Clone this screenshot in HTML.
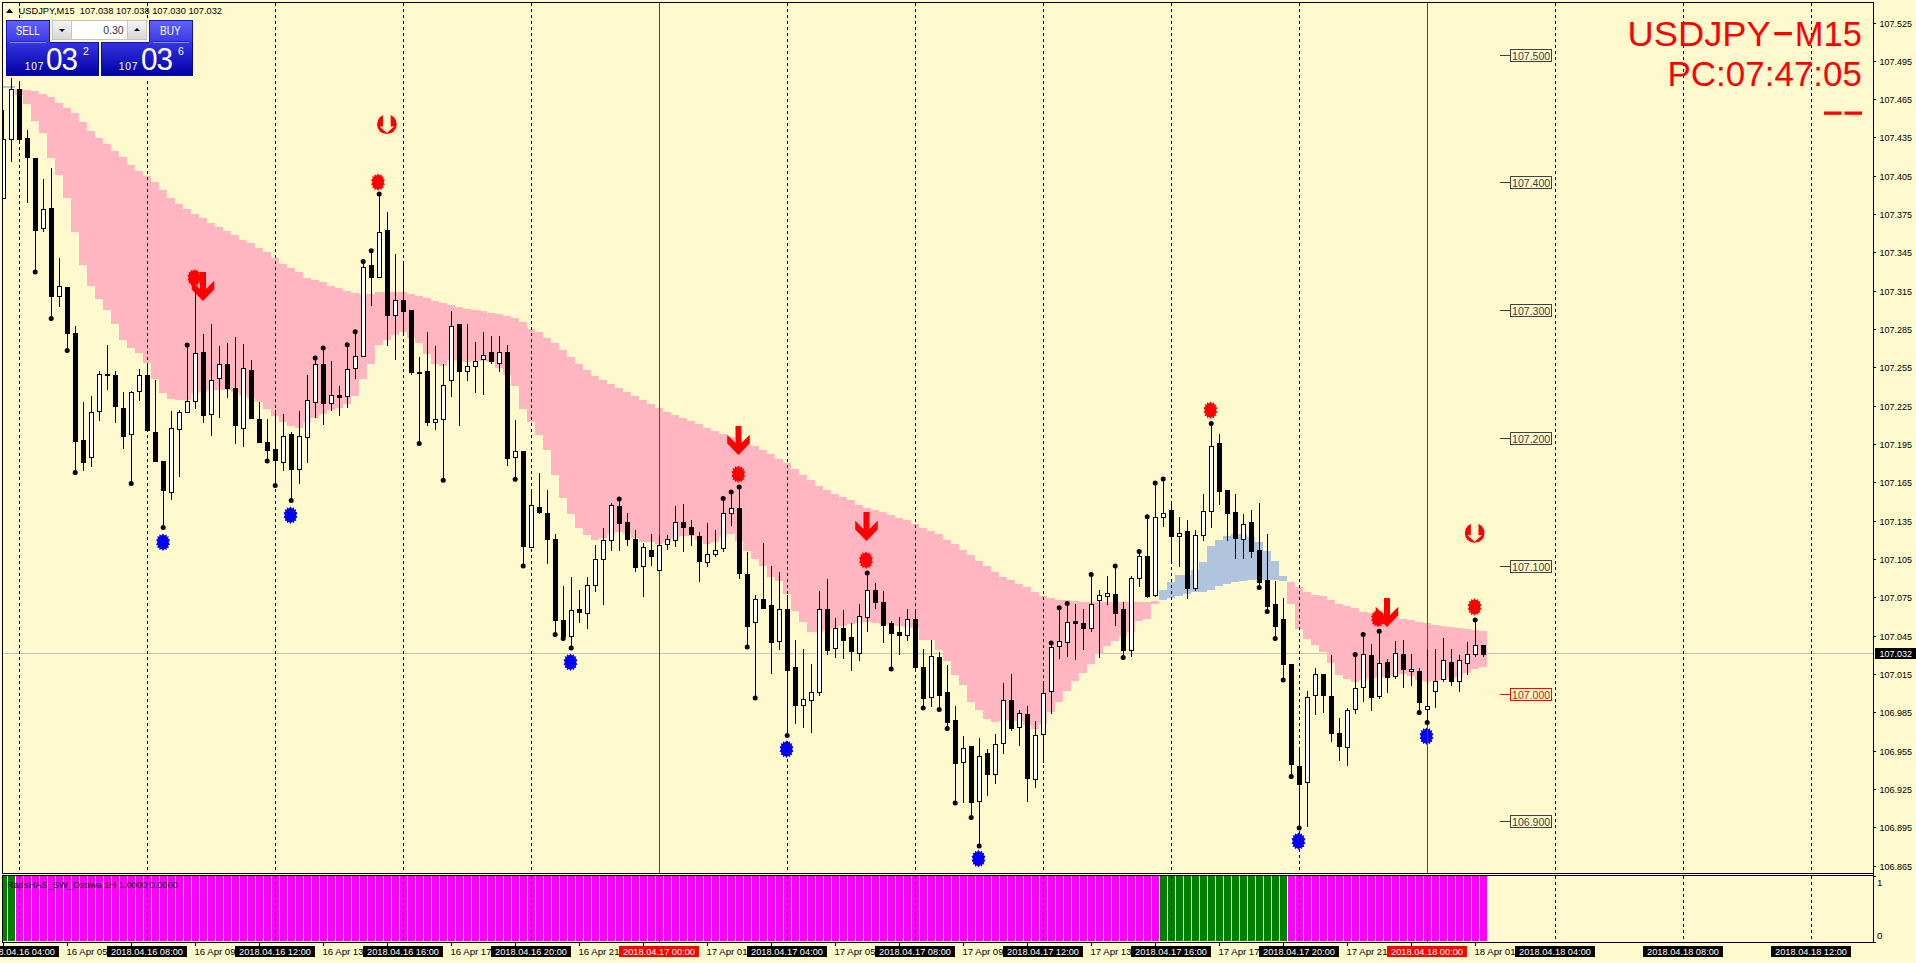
<!DOCTYPE html>
<html lang="en"><head><meta charset="utf-8"><title>USDJPY,M15</title><style>
html,body{margin:0;padding:0;background:#FFFACD}
body{width:1916px;height:963px;overflow:hidden;position:relative;font-family:"Liberation Sans",sans-serif}
.panel{position:absolute;left:6px;top:20px;width:187px;height:56px}
.blk{position:absolute;box-sizing:border-box}
.mid{left:44px;top:0;width:99px;height:23px;background:#FFFACD}
.under{left:0;top:56px;width:187px;height:2px;background:#FFFACD}
.sellb{left:0;top:0;width:44px;height:23px;background:linear-gradient(#6060fa,#3838e6);border:1px solid #1414b8;border-bottom:none}
.buyb{left:143.3px;top:0;width:43.7px;height:23px;background:linear-gradient(#6060fa,#3838e6);border:1px solid #1414b8;border-bottom:none}
.sellp{left:0;top:22.2px;width:93px;height:33.8px;background:linear-gradient(#3636e4,#0000a4);border:1px solid #0808a8;border-top:none}
.buyp{left:95.2px;top:22.2px;width:91.8px;height:33.8px;background:linear-gradient(#3636e4,#0000a4);border:1px solid #0808a8;border-top:none}
.edge{position:absolute;top:22.2px;height:1px;background:#1010b4}
.ul{position:absolute;top:22px;width:36px;height:1px;background:#8c8cff}
.uld{position:absolute;top:21px;width:36px;height:1px;background:#2424c8}
.lbl{position:absolute;top:4.5px;height:13px;line-height:13px;font-size:12px;color:#fff;text-align:center;white-space:nowrap}
.spin{position:absolute;left:46.4px;top:0px;width:94.4px;height:19.8px;background:#c4c4c4}
.sb{position:absolute;top:1px;height:18px;background:linear-gradient(#f4f4f4,#d8d8d8)}
.inp{position:absolute;left:19.4px;top:1px;width:55.4px;height:18px;background:#fff;font-size:10.5px;line-height:18px;text-align:right;padding-right:3.5px;box-sizing:border-box;color:#303040}
.dn{position:absolute;left:6px;top:7.5px;border-left:3px solid transparent;border-right:3px solid transparent;border-top:3px solid #000;width:0;height:0}
.upa{position:absolute;left:6px;top:7px;border-left:3px solid transparent;border-right:3px solid transparent;border-bottom:3px solid #000;width:0;height:0}
.sm{position:absolute;top:42px;font-size:10.3px;line-height:10px;color:#fff;letter-spacing:0.7px}
.big{position:absolute;top:22.5px;font-size:32px;line-height:32px;color:#fff;letter-spacing:-1px;transform-origin:0 50%;transform:scaleX(0.93)}
.sup{position:absolute;top:26px;font-size:10.5px;line-height:11px;color:#fff}
</style></head><body>
<svg width="1916" height="963" viewBox="0 0 1916 963" style="position:absolute;left:0;top:0">
<rect x="0" y="0" width="1916" height="963" fill="#FFFACD"/>
<g shape-rendering="crispEdges">
<rect x="3" y="653" width="1870" height="1" fill="#C0C0C0"/>
<rect x="15" y="89" width="8" height="6" fill="#FFB6C1"/>
<rect x="23" y="90" width="8" height="14" fill="#FFB6C1"/>
<rect x="31" y="91" width="8" height="30" fill="#FFB6C1"/>
<rect x="39" y="94" width="8" height="39" fill="#FFB6C1"/>
<rect x="47" y="97" width="8" height="61" fill="#FFB6C1"/>
<rect x="55" y="103" width="8" height="72" fill="#FFB6C1"/>
<rect x="63" y="108" width="8" height="90" fill="#FFB6C1"/>
<rect x="71" y="113" width="8" height="119" fill="#FFB6C1"/>
<rect x="79" y="122" width="8" height="143" fill="#FFB6C1"/>
<rect x="87" y="131" width="8" height="155" fill="#FFB6C1"/>
<rect x="95" y="138" width="8" height="161" fill="#FFB6C1"/>
<rect x="103" y="144" width="8" height="166" fill="#FFB6C1"/>
<rect x="111" y="151" width="8" height="173" fill="#FFB6C1"/>
<rect x="119" y="157" width="8" height="183" fill="#FFB6C1"/>
<rect x="127" y="165" width="8" height="183" fill="#FFB6C1"/>
<rect x="135" y="171" width="8" height="182" fill="#FFB6C1"/>
<rect x="143" y="176" width="8" height="187" fill="#FFB6C1"/>
<rect x="151" y="182" width="8" height="197" fill="#FFB6C1"/>
<rect x="159" y="190" width="8" height="203" fill="#FFB6C1"/>
<rect x="167" y="198" width="8" height="201" fill="#FFB6C1"/>
<rect x="175" y="204" width="8" height="196" fill="#FFB6C1"/>
<rect x="183" y="209" width="8" height="191" fill="#FFB6C1"/>
<rect x="191" y="214" width="8" height="180" fill="#FFB6C1"/>
<rect x="199" y="218" width="8" height="174" fill="#FFB6C1"/>
<rect x="207" y="223" width="8" height="167" fill="#FFB6C1"/>
<rect x="215" y="227" width="8" height="163" fill="#FFB6C1"/>
<rect x="223" y="231" width="8" height="159" fill="#FFB6C1"/>
<rect x="231" y="235" width="8" height="157" fill="#FFB6C1"/>
<rect x="239" y="240" width="8" height="155" fill="#FFB6C1"/>
<rect x="247" y="243" width="8" height="155" fill="#FFB6C1"/>
<rect x="255" y="248" width="8" height="154" fill="#FFB6C1"/>
<rect x="263" y="252" width="8" height="157" fill="#FFB6C1"/>
<rect x="271" y="258" width="8" height="158" fill="#FFB6C1"/>
<rect x="279" y="264" width="8" height="158" fill="#FFB6C1"/>
<rect x="287" y="268" width="8" height="158" fill="#FFB6C1"/>
<rect x="295" y="272" width="8" height="156" fill="#FFB6C1"/>
<rect x="303" y="278" width="8" height="144" fill="#FFB6C1"/>
<rect x="311" y="280" width="8" height="138" fill="#FFB6C1"/>
<rect x="319" y="282" width="8" height="132" fill="#FFB6C1"/>
<rect x="327" y="286" width="8" height="124" fill="#FFB6C1"/>
<rect x="335" y="288" width="8" height="120" fill="#FFB6C1"/>
<rect x="343" y="291" width="8" height="113" fill="#FFB6C1"/>
<rect x="351" y="293" width="8" height="103" fill="#FFB6C1"/>
<rect x="359" y="294" width="8" height="85" fill="#FFB6C1"/>
<rect x="367" y="294" width="8" height="70" fill="#FFB6C1"/>
<rect x="375" y="292" width="8" height="53" fill="#FFB6C1"/>
<rect x="383" y="292" width="8" height="48" fill="#FFB6C1"/>
<rect x="391" y="292" width="8" height="43" fill="#FFB6C1"/>
<rect x="399" y="292" width="8" height="40" fill="#FFB6C1"/>
<rect x="407" y="294" width="8" height="44" fill="#FFB6C1"/>
<rect x="415" y="296" width="8" height="47" fill="#FFB6C1"/>
<rect x="423" y="298" width="8" height="56" fill="#FFB6C1"/>
<rect x="431" y="301" width="8" height="63" fill="#FFB6C1"/>
<rect x="439" y="303" width="8" height="63" fill="#FFB6C1"/>
<rect x="447" y="305" width="8" height="55" fill="#FFB6C1"/>
<rect x="455" y="307" width="8" height="54" fill="#FFB6C1"/>
<rect x="463" y="309" width="8" height="53" fill="#FFB6C1"/>
<rect x="471" y="310" width="8" height="51" fill="#FFB6C1"/>
<rect x="479" y="311" width="8" height="50" fill="#FFB6C1"/>
<rect x="487" y="313" width="8" height="49" fill="#FFB6C1"/>
<rect x="495" y="314" width="8" height="54" fill="#FFB6C1"/>
<rect x="503" y="316" width="8" height="59" fill="#FFB6C1"/>
<rect x="511" y="318" width="8" height="68" fill="#FFB6C1"/>
<rect x="519" y="322" width="8" height="87" fill="#FFB6C1"/>
<rect x="527" y="329" width="8" height="93" fill="#FFB6C1"/>
<rect x="535" y="332" width="8" height="103" fill="#FFB6C1"/>
<rect x="543" y="338" width="8" height="112" fill="#FFB6C1"/>
<rect x="551" y="343" width="8" height="132" fill="#FFB6C1"/>
<rect x="559" y="350" width="8" height="148" fill="#FFB6C1"/>
<rect x="567" y="357" width="8" height="157" fill="#FFB6C1"/>
<rect x="575" y="364" width="8" height="164" fill="#FFB6C1"/>
<rect x="583" y="370" width="8" height="165" fill="#FFB6C1"/>
<rect x="591" y="376" width="8" height="164" fill="#FFB6C1"/>
<rect x="599" y="380" width="8" height="158" fill="#FFB6C1"/>
<rect x="607" y="384" width="8" height="150" fill="#FFB6C1"/>
<rect x="615" y="388" width="8" height="144" fill="#FFB6C1"/>
<rect x="623" y="392" width="8" height="142" fill="#FFB6C1"/>
<rect x="631" y="396" width="8" height="142" fill="#FFB6C1"/>
<rect x="639" y="400" width="8" height="142" fill="#FFB6C1"/>
<rect x="647" y="404" width="8" height="138" fill="#FFB6C1"/>
<rect x="655" y="408" width="8" height="136" fill="#FFB6C1"/>
<rect x="663" y="412" width="8" height="130" fill="#FFB6C1"/>
<rect x="671" y="415" width="8" height="124" fill="#FFB6C1"/>
<rect x="679" y="418" width="8" height="118" fill="#FFB6C1"/>
<rect x="687" y="421" width="8" height="115" fill="#FFB6C1"/>
<rect x="695" y="424" width="8" height="116" fill="#FFB6C1"/>
<rect x="703" y="428" width="8" height="116" fill="#FFB6C1"/>
<rect x="711" y="431" width="8" height="111" fill="#FFB6C1"/>
<rect x="719" y="434" width="8" height="103" fill="#FFB6C1"/>
<rect x="727" y="437" width="8" height="97" fill="#FFB6C1"/>
<rect x="735" y="441" width="8" height="100" fill="#FFB6C1"/>
<rect x="743" y="445" width="8" height="106" fill="#FFB6C1"/>
<rect x="751" y="446" width="8" height="113" fill="#FFB6C1"/>
<rect x="759" y="450" width="8" height="116" fill="#FFB6C1"/>
<rect x="767" y="454" width="8" height="123" fill="#FFB6C1"/>
<rect x="775" y="459" width="8" height="122" fill="#FFB6C1"/>
<rect x="783" y="463" width="8" height="131" fill="#FFB6C1"/>
<rect x="791" y="469" width="8" height="142" fill="#FFB6C1"/>
<rect x="799" y="475" width="8" height="147" fill="#FFB6C1"/>
<rect x="807" y="480" width="8" height="152" fill="#FFB6C1"/>
<rect x="815" y="486" width="8" height="146" fill="#FFB6C1"/>
<rect x="823" y="490" width="8" height="140" fill="#FFB6C1"/>
<rect x="831" y="494" width="8" height="134" fill="#FFB6C1"/>
<rect x="839" y="497" width="8" height="129" fill="#FFB6C1"/>
<rect x="847" y="500" width="8" height="124" fill="#FFB6C1"/>
<rect x="855" y="505" width="8" height="118" fill="#FFB6C1"/>
<rect x="863" y="508" width="8" height="114" fill="#FFB6C1"/>
<rect x="871" y="510" width="8" height="113" fill="#FFB6C1"/>
<rect x="879" y="512" width="8" height="112" fill="#FFB6C1"/>
<rect x="887" y="515" width="8" height="110" fill="#FFB6C1"/>
<rect x="895" y="518" width="8" height="108" fill="#FFB6C1"/>
<rect x="903" y="520" width="8" height="107" fill="#FFB6C1"/>
<rect x="911" y="524" width="8" height="104" fill="#FFB6C1"/>
<rect x="919" y="528" width="8" height="112" fill="#FFB6C1"/>
<rect x="927" y="531" width="8" height="109" fill="#FFB6C1"/>
<rect x="935" y="534" width="8" height="116" fill="#FFB6C1"/>
<rect x="943" y="540" width="8" height="121" fill="#FFB6C1"/>
<rect x="951" y="544" width="8" height="131" fill="#FFB6C1"/>
<rect x="959" y="550" width="8" height="135" fill="#FFB6C1"/>
<rect x="967" y="555" width="8" height="147" fill="#FFB6C1"/>
<rect x="975" y="561" width="8" height="149" fill="#FFB6C1"/>
<rect x="983" y="566" width="8" height="153" fill="#FFB6C1"/>
<rect x="991" y="572" width="8" height="150" fill="#FFB6C1"/>
<rect x="999" y="577" width="8" height="144" fill="#FFB6C1"/>
<rect x="1007" y="580" width="8" height="140" fill="#FFB6C1"/>
<rect x="1015" y="584" width="8" height="137" fill="#FFB6C1"/>
<rect x="1023" y="587" width="8" height="138" fill="#FFB6C1"/>
<rect x="1031" y="592" width="8" height="137" fill="#FFB6C1"/>
<rect x="1039" y="596" width="8" height="128" fill="#FFB6C1"/>
<rect x="1047" y="598" width="8" height="114" fill="#FFB6C1"/>
<rect x="1055" y="600" width="8" height="102" fill="#FFB6C1"/>
<rect x="1063" y="600" width="8" height="91" fill="#FFB6C1"/>
<rect x="1071" y="601" width="8" height="80" fill="#FFB6C1"/>
<rect x="1079" y="602" width="8" height="71" fill="#FFB6C1"/>
<rect x="1087" y="602" width="8" height="62" fill="#FFB6C1"/>
<rect x="1095" y="602" width="8" height="52" fill="#FFB6C1"/>
<rect x="1103" y="602" width="8" height="44" fill="#FFB6C1"/>
<rect x="1111" y="602" width="8" height="39" fill="#FFB6C1"/>
<rect x="1119" y="602" width="8" height="34" fill="#FFB6C1"/>
<rect x="1127" y="602" width="8" height="30" fill="#FFB6C1"/>
<rect x="1135" y="602" width="8" height="19" fill="#FFB6C1"/>
<rect x="1143" y="602" width="8" height="17" fill="#FFB6C1"/>
<rect x="1151" y="601" width="8" height="3" fill="#FFB6C1"/>
<rect x="1159" y="590" width="8" height="10" fill="#B0C4DE"/>
<rect x="1167" y="582" width="8" height="16" fill="#B0C4DE"/>
<rect x="1175" y="575" width="8" height="21" fill="#B0C4DE"/>
<rect x="1183" y="575" width="8" height="19" fill="#B0C4DE"/>
<rect x="1191" y="570" width="8" height="22" fill="#B0C4DE"/>
<rect x="1199" y="562" width="8" height="30" fill="#B0C4DE"/>
<rect x="1207" y="546" width="8" height="44" fill="#B0C4DE"/>
<rect x="1215" y="540" width="8" height="46" fill="#B0C4DE"/>
<rect x="1223" y="536" width="8" height="48" fill="#B0C4DE"/>
<rect x="1231" y="534" width="8" height="48" fill="#B0C4DE"/>
<rect x="1239" y="534" width="8" height="47" fill="#B0C4DE"/>
<rect x="1247" y="537" width="8" height="43" fill="#B0C4DE"/>
<rect x="1255" y="542" width="8" height="38" fill="#B0C4DE"/>
<rect x="1263" y="551" width="8" height="29" fill="#B0C4DE"/>
<rect x="1271" y="561" width="8" height="19" fill="#B0C4DE"/>
<rect x="1279" y="576" width="8" height="5" fill="#B0C4DE"/>
<rect x="1287" y="582" width="8" height="22" fill="#FFB6C1"/>
<rect x="1295" y="587" width="8" height="42" fill="#FFB6C1"/>
<rect x="1303" y="592" width="8" height="47" fill="#FFB6C1"/>
<rect x="1311" y="595" width="8" height="50" fill="#FFB6C1"/>
<rect x="1319" y="596" width="8" height="56" fill="#FFB6C1"/>
<rect x="1327" y="600" width="8" height="63" fill="#FFB6C1"/>
<rect x="1335" y="604" width="8" height="71" fill="#FFB6C1"/>
<rect x="1343" y="606" width="8" height="73" fill="#FFB6C1"/>
<rect x="1351" y="608" width="8" height="74" fill="#FFB6C1"/>
<rect x="1359" y="612" width="8" height="68" fill="#FFB6C1"/>
<rect x="1367" y="613" width="8" height="65" fill="#FFB6C1"/>
<rect x="1375" y="615" width="8" height="63" fill="#FFB6C1"/>
<rect x="1383" y="616" width="8" height="61" fill="#FFB6C1"/>
<rect x="1391" y="618" width="8" height="58" fill="#FFB6C1"/>
<rect x="1399" y="619" width="8" height="55" fill="#FFB6C1"/>
<rect x="1407" y="620" width="8" height="56" fill="#FFB6C1"/>
<rect x="1415" y="622" width="8" height="58" fill="#FFB6C1"/>
<rect x="1423" y="623" width="8" height="59" fill="#FFB6C1"/>
<rect x="1431" y="625" width="8" height="56" fill="#FFB6C1"/>
<rect x="1439" y="626" width="8" height="54" fill="#FFB6C1"/>
<rect x="1447" y="627" width="8" height="51" fill="#FFB6C1"/>
<rect x="1455" y="628" width="8" height="49" fill="#FFB6C1"/>
<rect x="1463" y="629" width="8" height="44" fill="#FFB6C1"/>
<rect x="1471" y="630" width="8" height="39" fill="#FFB6C1"/>
<rect x="1479" y="631" width="8" height="36" fill="#FFB6C1"/>
<rect x="3" y="86" width="12" height="2" fill="#B0C4DE"/>
</g>
<polygon points="378,173.4 379.53,175.47 381.49,174.15 381.71,176.63 383.79,176.32 383.1,178.82 385,179.75 383.58,182.15 385,184.55 383.1,185.48 383.79,187.98 381.71,187.67 381.49,190.15 379.53,188.83 378,190.9 376.47,188.83 374.51,190.15 374.29,187.67 372.21,187.98 372.9,185.48 371,184.55 372.42,182.15 371,179.75 372.9,178.82 372.21,176.32 374.29,176.63 374.51,174.15 376.47,175.47" fill="#FF0000"/>
<polygon points="194.3,269 195.83,271.07 197.79,269.75 198.01,272.23 200.09,271.92 199.4,274.42 201.3,275.35 199.88,277.75 201.3,280.15 199.4,281.08 200.09,283.58 198.01,283.27 197.79,285.75 195.83,284.43 194.3,286.5 192.77,284.43 190.81,285.75 190.59,283.27 188.51,283.58 189.2,281.08 187.3,280.15 188.72,277.75 187.3,275.35 189.2,274.42 188.51,271.92 190.59,272.23 190.81,269.75 192.77,271.07" fill="#FF0000"/>
<polygon points="738.4,465.4 739.93,467.47 741.89,466.15 742.11,468.63 744.19,468.32 743.5,470.82 745.4,471.75 743.98,474.15 745.4,476.55 743.5,477.48 744.19,479.98 742.11,479.67 741.89,482.15 739.93,480.83 738.4,482.9 736.87,480.83 734.91,482.15 734.69,479.67 732.61,479.98 733.3,477.48 731.4,476.55 732.82,474.15 731.4,471.75 733.3,470.82 732.61,468.32 734.69,468.63 734.91,466.15 736.87,467.47" fill="#FF0000"/>
<polygon points="866,551.4 867.53,553.47 869.49,552.15 869.71,554.63 871.79,554.32 871.1,556.82 873,557.75 871.58,560.15 873,562.55 871.1,563.48 871.79,565.98 869.71,565.67 869.49,568.15 867.53,566.83 866,568.9 864.47,566.83 862.51,568.15 862.29,565.67 860.21,565.98 860.9,563.48 859,562.55 860.42,560.15 859,557.75 860.9,556.82 860.21,554.32 862.29,554.63 862.51,552.15 864.47,553.47" fill="#FF0000"/>
<polygon points="1210.5,401.4 1212.03,403.47 1213.99,402.15 1214.21,404.63 1216.29,404.32 1215.6,406.82 1217.5,407.75 1216.08,410.15 1217.5,412.55 1215.6,413.48 1216.29,415.98 1214.21,415.67 1213.99,418.15 1212.03,416.83 1210.5,418.9 1208.97,416.83 1207.01,418.15 1206.79,415.67 1204.71,415.98 1205.4,413.48 1203.5,412.55 1204.92,410.15 1203.5,407.75 1205.4,406.82 1204.71,404.32 1206.79,404.63 1207.01,402.15 1208.97,403.47" fill="#FF0000"/>
<polygon points="1378,609.7 1379.53,611.77 1381.49,610.45 1381.71,612.93 1383.79,612.62 1383.1,615.12 1385,616.05 1383.58,618.45 1385,620.85 1383.1,621.78 1383.79,624.28 1381.71,623.97 1381.49,626.45 1379.53,625.13 1378,627.2 1376.47,625.13 1374.51,626.45 1374.29,623.97 1372.21,624.28 1372.9,621.78 1371,620.85 1372.42,618.45 1371,616.05 1372.9,615.12 1372.21,612.62 1374.29,612.93 1374.51,610.45 1376.47,611.77" fill="#FF0000"/>
<polygon points="1474.6,598.2 1476.13,600.27 1478.09,598.95 1478.31,601.43 1480.39,601.12 1479.7,603.62 1481.6,604.55 1480.18,606.95 1481.6,609.35 1479.7,610.28 1480.39,612.78 1478.31,612.47 1478.09,614.95 1476.13,613.63 1474.6,615.7 1473.07,613.63 1471.11,614.95 1470.89,612.47 1468.81,612.78 1469.5,610.28 1467.6,609.35 1469.02,606.95 1467.6,604.55 1469.5,603.62 1468.81,601.12 1470.89,601.43 1471.11,598.95 1473.07,600.27" fill="#FF0000"/>
<polygon points="163,533.4 164.53,535.47 166.49,534.15 166.71,536.63 168.79,536.32 168.1,538.82 170,539.75 168.58,542.15 170,544.55 168.1,545.48 168.79,547.98 166.71,547.67 166.49,550.15 164.53,548.83 163,550.9 161.47,548.83 159.51,550.15 159.29,547.67 157.21,547.98 157.9,545.48 156,544.55 157.42,542.15 156,539.75 157.9,538.82 157.21,536.32 159.29,536.63 159.51,534.15 161.47,535.47" fill="#0000FF"/>
<polygon points="290.5,506.4 292.03,508.47 293.99,507.15 294.21,509.63 296.29,509.32 295.6,511.82 297.5,512.75 296.08,515.15 297.5,517.55 295.6,518.48 296.29,520.98 294.21,520.67 293.99,523.15 292.03,521.83 290.5,523.9 288.97,521.83 287.01,523.15 286.79,520.67 284.71,520.98 285.4,518.48 283.5,517.55 284.92,515.15 283.5,512.75 285.4,511.82 284.71,509.32 286.79,509.63 287.01,507.15 288.97,508.47" fill="#0000FF"/>
<polygon points="570.5,653.4 572.03,655.47 573.99,654.15 574.21,656.63 576.29,656.32 575.6,658.82 577.5,659.75 576.08,662.15 577.5,664.55 575.6,665.48 576.29,667.98 574.21,667.67 573.99,670.15 572.03,668.83 570.5,670.9 568.97,668.83 567.01,670.15 566.79,667.67 564.71,667.98 565.4,665.48 563.5,664.55 564.92,662.15 563.5,659.75 565.4,658.82 564.71,656.32 566.79,656.63 567.01,654.15 568.97,655.47" fill="#0000FF"/>
<polygon points="786.5,740.4 788.03,742.47 789.99,741.15 790.21,743.63 792.29,743.32 791.6,745.82 793.5,746.75 792.08,749.15 793.5,751.55 791.6,752.48 792.29,754.98 790.21,754.67 789.99,757.15 788.03,755.83 786.5,757.9 784.97,755.83 783.01,757.15 782.79,754.67 780.71,754.98 781.4,752.48 779.5,751.55 780.92,749.15 779.5,746.75 781.4,745.82 780.71,743.32 782.79,743.63 783.01,741.15 784.97,742.47" fill="#0000FF"/>
<polygon points="978.5,849.9 980.03,851.97 981.99,850.65 982.21,853.13 984.29,852.82 983.6,855.32 985.5,856.25 984.08,858.65 985.5,861.05 983.6,861.98 984.29,864.48 982.21,864.17 981.99,866.65 980.03,865.33 978.5,867.4 976.97,865.33 975.01,866.65 974.79,864.17 972.71,864.48 973.4,861.98 971.5,861.05 972.92,858.65 971.5,856.25 973.4,855.32 972.71,852.82 974.79,853.13 975.01,850.65 976.97,851.97" fill="#0000FF"/>
<polygon points="1298.5,832.4 1300.03,834.47 1301.99,833.15 1302.21,835.63 1304.29,835.32 1303.6,837.82 1305.5,838.75 1304.08,841.15 1305.5,843.55 1303.6,844.48 1304.29,846.98 1302.21,846.67 1301.99,849.15 1300.03,847.83 1298.5,849.9 1296.97,847.83 1295.01,849.15 1294.79,846.67 1292.71,846.98 1293.4,844.48 1291.5,843.55 1292.92,841.15 1291.5,838.75 1293.4,837.82 1292.71,835.32 1294.79,835.63 1295.01,833.15 1296.97,834.47" fill="#0000FF"/>
<polygon points="1426.5,727.4 1428.03,729.47 1429.99,728.15 1430.21,730.63 1432.29,730.32 1431.6,732.82 1433.5,733.75 1432.08,736.15 1433.5,738.55 1431.6,739.48 1432.29,741.98 1430.21,741.67 1429.99,744.15 1428.03,742.83 1426.5,744.9 1424.97,742.83 1423.01,744.15 1422.79,741.67 1420.71,741.98 1421.4,739.48 1419.5,738.55 1420.92,736.15 1419.5,733.75 1421.4,732.82 1420.71,730.32 1422.79,730.63 1423.01,728.15 1424.97,729.47" fill="#0000FF"/>
<polygon points="735.5,426 741.5,426 741.5,443 749.8,434.7 749.8,443.5 738.5,455 727.2,443.5 727.2,434.7 735.5,443" fill="#FF0000"/>
<polygon points="863.5,512 869.5,512 869.5,529 877.8,520.7 877.8,529.5 866.5,541 855.2,529.5 855.2,520.7 863.5,529" fill="#FF0000"/>
<polygon points="200,272 206,272 206,289 214.3,280.7 214.3,289.5 203,301 191.7,289.5 191.7,280.7 200,289" fill="#FF0000"/>
<polygon points="1384,598 1390,598 1390,615 1398.3,606.7 1398.3,615.5 1387,627 1375.7,615.5 1375.7,606.7 1384,615" fill="#FF0000"/>
<circle cx="386.9" cy="124.2" r="9.9" fill="#FF0000"/>
<polygon points="383.1,113.2 390.7,113.2 390.7,126.6 394.1,126.6 386.9,133.1 379.7,126.6 383.1,126.6" fill="#FFFACD"/>
<circle cx="1474.7" cy="532.9" r="9.9" fill="#FF0000"/>
<polygon points="1470.9,521.9 1478.5,521.9 1478.5,535.3 1481.9,535.3 1474.7,541.8 1467.5,535.3 1470.9,535.3" fill="#FFFACD"/>
<g shape-rendering="crispEdges">
<line x1="19.5" y1="3" x2="19.5" y2="873" stroke="#000" stroke-width="1" stroke-dasharray="3 3"/>
<line x1="19.5" y1="876" x2="19.5" y2="942" stroke="#000" stroke-width="1" stroke-dasharray="3 3"/>
<line x1="147.5" y1="3" x2="147.5" y2="873" stroke="#000" stroke-width="1" stroke-dasharray="3 3"/>
<line x1="147.5" y1="876" x2="147.5" y2="942" stroke="#000" stroke-width="1" stroke-dasharray="3 3"/>
<line x1="275.5" y1="3" x2="275.5" y2="873" stroke="#000" stroke-width="1" stroke-dasharray="3 3"/>
<line x1="275.5" y1="876" x2="275.5" y2="942" stroke="#000" stroke-width="1" stroke-dasharray="3 3"/>
<line x1="403.5" y1="3" x2="403.5" y2="873" stroke="#000" stroke-width="1" stroke-dasharray="3 3"/>
<line x1="403.5" y1="876" x2="403.5" y2="942" stroke="#000" stroke-width="1" stroke-dasharray="3 3"/>
<line x1="531.5" y1="3" x2="531.5" y2="873" stroke="#000" stroke-width="1" stroke-dasharray="3 3"/>
<line x1="531.5" y1="876" x2="531.5" y2="942" stroke="#000" stroke-width="1" stroke-dasharray="3 3"/>
<line x1="787.5" y1="3" x2="787.5" y2="873" stroke="#000" stroke-width="1" stroke-dasharray="3 3"/>
<line x1="787.5" y1="876" x2="787.5" y2="942" stroke="#000" stroke-width="1" stroke-dasharray="3 3"/>
<line x1="915.5" y1="3" x2="915.5" y2="873" stroke="#000" stroke-width="1" stroke-dasharray="3 3"/>
<line x1="915.5" y1="876" x2="915.5" y2="942" stroke="#000" stroke-width="1" stroke-dasharray="3 3"/>
<line x1="1043.5" y1="3" x2="1043.5" y2="873" stroke="#000" stroke-width="1" stroke-dasharray="3 3"/>
<line x1="1043.5" y1="876" x2="1043.5" y2="942" stroke="#000" stroke-width="1" stroke-dasharray="3 3"/>
<line x1="1171.5" y1="3" x2="1171.5" y2="873" stroke="#000" stroke-width="1" stroke-dasharray="3 3"/>
<line x1="1171.5" y1="876" x2="1171.5" y2="942" stroke="#000" stroke-width="1" stroke-dasharray="3 3"/>
<line x1="1299.5" y1="3" x2="1299.5" y2="873" stroke="#000" stroke-width="1" stroke-dasharray="3 3"/>
<line x1="1299.5" y1="876" x2="1299.5" y2="942" stroke="#000" stroke-width="1" stroke-dasharray="3 3"/>
<line x1="1555.5" y1="3" x2="1555.5" y2="873" stroke="#000" stroke-width="1" stroke-dasharray="3 3"/>
<line x1="1555.5" y1="876" x2="1555.5" y2="942" stroke="#000" stroke-width="1" stroke-dasharray="3 3"/>
<line x1="1683.5" y1="3" x2="1683.5" y2="873" stroke="#000" stroke-width="1" stroke-dasharray="3 3"/>
<line x1="1683.5" y1="876" x2="1683.5" y2="942" stroke="#000" stroke-width="1" stroke-dasharray="3 3"/>
<line x1="1811.5" y1="3" x2="1811.5" y2="873" stroke="#000" stroke-width="1" stroke-dasharray="3 3"/>
<line x1="1811.5" y1="876" x2="1811.5" y2="942" stroke="#000" stroke-width="1" stroke-dasharray="3 3"/>
<rect x="659" y="3" width="1" height="870" fill="#FF0000"/>
<rect x="1427" y="3" width="1" height="870" fill="#FF0000"/>
<rect x="3" y="876" width="4" height="65" fill="#008000"/>
<rect x="8" y="876" width="7" height="65" fill="#008000"/>
<rect x="16" y="876" width="7" height="65" fill="#FF00FF"/>
<rect x="24" y="876" width="7" height="65" fill="#FF00FF"/>
<rect x="32" y="876" width="7" height="65" fill="#FF00FF"/>
<rect x="40" y="876" width="7" height="65" fill="#FF00FF"/>
<rect x="48" y="876" width="7" height="65" fill="#FF00FF"/>
<rect x="56" y="876" width="7" height="65" fill="#FF00FF"/>
<rect x="64" y="876" width="7" height="65" fill="#FF00FF"/>
<rect x="72" y="876" width="7" height="65" fill="#FF00FF"/>
<rect x="80" y="876" width="7" height="65" fill="#FF00FF"/>
<rect x="88" y="876" width="7" height="65" fill="#FF00FF"/>
<rect x="96" y="876" width="7" height="65" fill="#FF00FF"/>
<rect x="104" y="876" width="7" height="65" fill="#FF00FF"/>
<rect x="112" y="876" width="7" height="65" fill="#FF00FF"/>
<rect x="120" y="876" width="7" height="65" fill="#FF00FF"/>
<rect x="128" y="876" width="7" height="65" fill="#FF00FF"/>
<rect x="136" y="876" width="7" height="65" fill="#FF00FF"/>
<rect x="144" y="876" width="7" height="65" fill="#FF00FF"/>
<rect x="152" y="876" width="7" height="65" fill="#FF00FF"/>
<rect x="160" y="876" width="7" height="65" fill="#FF00FF"/>
<rect x="168" y="876" width="7" height="65" fill="#FF00FF"/>
<rect x="176" y="876" width="7" height="65" fill="#FF00FF"/>
<rect x="184" y="876" width="7" height="65" fill="#FF00FF"/>
<rect x="192" y="876" width="7" height="65" fill="#FF00FF"/>
<rect x="200" y="876" width="7" height="65" fill="#FF00FF"/>
<rect x="208" y="876" width="7" height="65" fill="#FF00FF"/>
<rect x="216" y="876" width="7" height="65" fill="#FF00FF"/>
<rect x="224" y="876" width="7" height="65" fill="#FF00FF"/>
<rect x="232" y="876" width="7" height="65" fill="#FF00FF"/>
<rect x="240" y="876" width="7" height="65" fill="#FF00FF"/>
<rect x="248" y="876" width="7" height="65" fill="#FF00FF"/>
<rect x="256" y="876" width="7" height="65" fill="#FF00FF"/>
<rect x="264" y="876" width="7" height="65" fill="#FF00FF"/>
<rect x="272" y="876" width="7" height="65" fill="#FF00FF"/>
<rect x="280" y="876" width="7" height="65" fill="#FF00FF"/>
<rect x="288" y="876" width="7" height="65" fill="#FF00FF"/>
<rect x="296" y="876" width="7" height="65" fill="#FF00FF"/>
<rect x="304" y="876" width="7" height="65" fill="#FF00FF"/>
<rect x="312" y="876" width="7" height="65" fill="#FF00FF"/>
<rect x="320" y="876" width="7" height="65" fill="#FF00FF"/>
<rect x="328" y="876" width="7" height="65" fill="#FF00FF"/>
<rect x="336" y="876" width="7" height="65" fill="#FF00FF"/>
<rect x="344" y="876" width="7" height="65" fill="#FF00FF"/>
<rect x="352" y="876" width="7" height="65" fill="#FF00FF"/>
<rect x="360" y="876" width="7" height="65" fill="#FF00FF"/>
<rect x="368" y="876" width="7" height="65" fill="#FF00FF"/>
<rect x="376" y="876" width="7" height="65" fill="#FF00FF"/>
<rect x="384" y="876" width="7" height="65" fill="#FF00FF"/>
<rect x="392" y="876" width="7" height="65" fill="#FF00FF"/>
<rect x="400" y="876" width="7" height="65" fill="#FF00FF"/>
<rect x="408" y="876" width="7" height="65" fill="#FF00FF"/>
<rect x="416" y="876" width="7" height="65" fill="#FF00FF"/>
<rect x="424" y="876" width="7" height="65" fill="#FF00FF"/>
<rect x="432" y="876" width="7" height="65" fill="#FF00FF"/>
<rect x="440" y="876" width="7" height="65" fill="#FF00FF"/>
<rect x="448" y="876" width="7" height="65" fill="#FF00FF"/>
<rect x="456" y="876" width="7" height="65" fill="#FF00FF"/>
<rect x="464" y="876" width="7" height="65" fill="#FF00FF"/>
<rect x="472" y="876" width="7" height="65" fill="#FF00FF"/>
<rect x="480" y="876" width="7" height="65" fill="#FF00FF"/>
<rect x="488" y="876" width="7" height="65" fill="#FF00FF"/>
<rect x="496" y="876" width="7" height="65" fill="#FF00FF"/>
<rect x="504" y="876" width="7" height="65" fill="#FF00FF"/>
<rect x="512" y="876" width="7" height="65" fill="#FF00FF"/>
<rect x="520" y="876" width="7" height="65" fill="#FF00FF"/>
<rect x="528" y="876" width="7" height="65" fill="#FF00FF"/>
<rect x="536" y="876" width="7" height="65" fill="#FF00FF"/>
<rect x="544" y="876" width="7" height="65" fill="#FF00FF"/>
<rect x="552" y="876" width="7" height="65" fill="#FF00FF"/>
<rect x="560" y="876" width="7" height="65" fill="#FF00FF"/>
<rect x="568" y="876" width="7" height="65" fill="#FF00FF"/>
<rect x="576" y="876" width="7" height="65" fill="#FF00FF"/>
<rect x="584" y="876" width="7" height="65" fill="#FF00FF"/>
<rect x="592" y="876" width="7" height="65" fill="#FF00FF"/>
<rect x="600" y="876" width="7" height="65" fill="#FF00FF"/>
<rect x="608" y="876" width="7" height="65" fill="#FF00FF"/>
<rect x="616" y="876" width="7" height="65" fill="#FF00FF"/>
<rect x="624" y="876" width="7" height="65" fill="#FF00FF"/>
<rect x="632" y="876" width="7" height="65" fill="#FF00FF"/>
<rect x="640" y="876" width="7" height="65" fill="#FF00FF"/>
<rect x="648" y="876" width="7" height="65" fill="#FF00FF"/>
<rect x="656" y="876" width="7" height="65" fill="#FF00FF"/>
<rect x="664" y="876" width="7" height="65" fill="#FF00FF"/>
<rect x="672" y="876" width="7" height="65" fill="#FF00FF"/>
<rect x="680" y="876" width="7" height="65" fill="#FF00FF"/>
<rect x="688" y="876" width="7" height="65" fill="#FF00FF"/>
<rect x="696" y="876" width="7" height="65" fill="#FF00FF"/>
<rect x="704" y="876" width="7" height="65" fill="#FF00FF"/>
<rect x="712" y="876" width="7" height="65" fill="#FF00FF"/>
<rect x="720" y="876" width="7" height="65" fill="#FF00FF"/>
<rect x="728" y="876" width="7" height="65" fill="#FF00FF"/>
<rect x="736" y="876" width="7" height="65" fill="#FF00FF"/>
<rect x="744" y="876" width="7" height="65" fill="#FF00FF"/>
<rect x="752" y="876" width="7" height="65" fill="#FF00FF"/>
<rect x="760" y="876" width="7" height="65" fill="#FF00FF"/>
<rect x="768" y="876" width="7" height="65" fill="#FF00FF"/>
<rect x="776" y="876" width="7" height="65" fill="#FF00FF"/>
<rect x="784" y="876" width="7" height="65" fill="#FF00FF"/>
<rect x="792" y="876" width="7" height="65" fill="#FF00FF"/>
<rect x="800" y="876" width="7" height="65" fill="#FF00FF"/>
<rect x="808" y="876" width="7" height="65" fill="#FF00FF"/>
<rect x="816" y="876" width="7" height="65" fill="#FF00FF"/>
<rect x="824" y="876" width="7" height="65" fill="#FF00FF"/>
<rect x="832" y="876" width="7" height="65" fill="#FF00FF"/>
<rect x="840" y="876" width="7" height="65" fill="#FF00FF"/>
<rect x="848" y="876" width="7" height="65" fill="#FF00FF"/>
<rect x="856" y="876" width="7" height="65" fill="#FF00FF"/>
<rect x="864" y="876" width="7" height="65" fill="#FF00FF"/>
<rect x="872" y="876" width="7" height="65" fill="#FF00FF"/>
<rect x="880" y="876" width="7" height="65" fill="#FF00FF"/>
<rect x="888" y="876" width="7" height="65" fill="#FF00FF"/>
<rect x="896" y="876" width="7" height="65" fill="#FF00FF"/>
<rect x="904" y="876" width="7" height="65" fill="#FF00FF"/>
<rect x="912" y="876" width="7" height="65" fill="#FF00FF"/>
<rect x="920" y="876" width="7" height="65" fill="#FF00FF"/>
<rect x="928" y="876" width="7" height="65" fill="#FF00FF"/>
<rect x="936" y="876" width="7" height="65" fill="#FF00FF"/>
<rect x="944" y="876" width="7" height="65" fill="#FF00FF"/>
<rect x="952" y="876" width="7" height="65" fill="#FF00FF"/>
<rect x="960" y="876" width="7" height="65" fill="#FF00FF"/>
<rect x="968" y="876" width="7" height="65" fill="#FF00FF"/>
<rect x="976" y="876" width="7" height="65" fill="#FF00FF"/>
<rect x="984" y="876" width="7" height="65" fill="#FF00FF"/>
<rect x="992" y="876" width="7" height="65" fill="#FF00FF"/>
<rect x="1000" y="876" width="7" height="65" fill="#FF00FF"/>
<rect x="1008" y="876" width="7" height="65" fill="#FF00FF"/>
<rect x="1016" y="876" width="7" height="65" fill="#FF00FF"/>
<rect x="1024" y="876" width="7" height="65" fill="#FF00FF"/>
<rect x="1032" y="876" width="7" height="65" fill="#FF00FF"/>
<rect x="1040" y="876" width="7" height="65" fill="#FF00FF"/>
<rect x="1048" y="876" width="7" height="65" fill="#FF00FF"/>
<rect x="1056" y="876" width="7" height="65" fill="#FF00FF"/>
<rect x="1064" y="876" width="7" height="65" fill="#FF00FF"/>
<rect x="1072" y="876" width="7" height="65" fill="#FF00FF"/>
<rect x="1080" y="876" width="7" height="65" fill="#FF00FF"/>
<rect x="1088" y="876" width="7" height="65" fill="#FF00FF"/>
<rect x="1096" y="876" width="7" height="65" fill="#FF00FF"/>
<rect x="1104" y="876" width="7" height="65" fill="#FF00FF"/>
<rect x="1112" y="876" width="7" height="65" fill="#FF00FF"/>
<rect x="1120" y="876" width="7" height="65" fill="#FF00FF"/>
<rect x="1128" y="876" width="7" height="65" fill="#FF00FF"/>
<rect x="1136" y="876" width="7" height="65" fill="#FF00FF"/>
<rect x="1144" y="876" width="7" height="65" fill="#FF00FF"/>
<rect x="1152" y="876" width="7" height="65" fill="#FF00FF"/>
<rect x="1160" y="876" width="7" height="65" fill="#008000"/>
<rect x="1168" y="876" width="7" height="65" fill="#008000"/>
<rect x="1176" y="876" width="7" height="65" fill="#008000"/>
<rect x="1184" y="876" width="7" height="65" fill="#008000"/>
<rect x="1192" y="876" width="7" height="65" fill="#008000"/>
<rect x="1200" y="876" width="7" height="65" fill="#008000"/>
<rect x="1208" y="876" width="7" height="65" fill="#008000"/>
<rect x="1216" y="876" width="7" height="65" fill="#008000"/>
<rect x="1224" y="876" width="7" height="65" fill="#008000"/>
<rect x="1232" y="876" width="7" height="65" fill="#008000"/>
<rect x="1240" y="876" width="7" height="65" fill="#008000"/>
<rect x="1248" y="876" width="7" height="65" fill="#008000"/>
<rect x="1256" y="876" width="7" height="65" fill="#008000"/>
<rect x="1264" y="876" width="7" height="65" fill="#008000"/>
<rect x="1272" y="876" width="7" height="65" fill="#008000"/>
<rect x="1280" y="876" width="7" height="65" fill="#008000"/>
<rect x="1288" y="876" width="7" height="65" fill="#FF00FF"/>
<rect x="1296" y="876" width="7" height="65" fill="#FF00FF"/>
<rect x="1304" y="876" width="7" height="65" fill="#FF00FF"/>
<rect x="1312" y="876" width="7" height="65" fill="#FF00FF"/>
<rect x="1320" y="876" width="7" height="65" fill="#FF00FF"/>
<rect x="1328" y="876" width="7" height="65" fill="#FF00FF"/>
<rect x="1336" y="876" width="7" height="65" fill="#FF00FF"/>
<rect x="1344" y="876" width="7" height="65" fill="#FF00FF"/>
<rect x="1352" y="876" width="7" height="65" fill="#FF00FF"/>
<rect x="1360" y="876" width="7" height="65" fill="#FF00FF"/>
<rect x="1368" y="876" width="7" height="65" fill="#FF00FF"/>
<rect x="1376" y="876" width="7" height="65" fill="#FF00FF"/>
<rect x="1384" y="876" width="7" height="65" fill="#FF00FF"/>
<rect x="1392" y="876" width="7" height="65" fill="#FF00FF"/>
<rect x="1400" y="876" width="7" height="65" fill="#FF00FF"/>
<rect x="1408" y="876" width="7" height="65" fill="#FF00FF"/>
<rect x="1416" y="876" width="7" height="65" fill="#FF00FF"/>
<rect x="1424" y="876" width="7" height="65" fill="#FF00FF"/>
<rect x="1432" y="876" width="7" height="65" fill="#FF00FF"/>
<rect x="1440" y="876" width="7" height="65" fill="#FF00FF"/>
<rect x="1448" y="876" width="7" height="65" fill="#FF00FF"/>
<rect x="1456" y="876" width="7" height="65" fill="#FF00FF"/>
<rect x="1464" y="876" width="7" height="65" fill="#FF00FF"/>
<rect x="1472" y="876" width="7" height="65" fill="#FF00FF"/>
<rect x="1480" y="876" width="7" height="65" fill="#FF00FF"/>
<line x1="19.5" y1="876" x2="19.5" y2="942" stroke="#000" stroke-width="1" stroke-dasharray="3 3"/>
<line x1="147.5" y1="876" x2="147.5" y2="942" stroke="#000" stroke-width="1" stroke-dasharray="3 3"/>
<line x1="275.5" y1="876" x2="275.5" y2="942" stroke="#000" stroke-width="1" stroke-dasharray="3 3"/>
<line x1="403.5" y1="876" x2="403.5" y2="942" stroke="#000" stroke-width="1" stroke-dasharray="3 3"/>
<line x1="531.5" y1="876" x2="531.5" y2="942" stroke="#000" stroke-width="1" stroke-dasharray="3 3"/>
<line x1="787.5" y1="876" x2="787.5" y2="942" stroke="#000" stroke-width="1" stroke-dasharray="3 3"/>
<line x1="915.5" y1="876" x2="915.5" y2="942" stroke="#000" stroke-width="1" stroke-dasharray="3 3"/>
<line x1="1043.5" y1="876" x2="1043.5" y2="942" stroke="#000" stroke-width="1" stroke-dasharray="3 3"/>
<line x1="1171.5" y1="876" x2="1171.5" y2="942" stroke="#000" stroke-width="1" stroke-dasharray="3 3"/>
<line x1="1299.5" y1="876" x2="1299.5" y2="942" stroke="#000" stroke-width="1" stroke-dasharray="3 3"/>
<line x1="1555.5" y1="876" x2="1555.5" y2="942" stroke="#000" stroke-width="1" stroke-dasharray="3 3"/>
<line x1="1683.5" y1="876" x2="1683.5" y2="942" stroke="#000" stroke-width="1" stroke-dasharray="3 3"/>
<line x1="1811.5" y1="876" x2="1811.5" y2="942" stroke="#000" stroke-width="1" stroke-dasharray="3 3"/>
<rect x="659" y="876" width="1" height="66" fill="#FF0000"/>
<rect x="1427" y="876" width="1" height="66" fill="#FF0000"/>
<rect x="3" y="110" width="1" height="89" fill="#000"/>
<rect x="3" y="139" width="3" height="60" fill="#000"/>
<rect x="2" y="140" width="3" height="58" fill="#fff"/>
<rect x="11" y="78" width="1" height="84" fill="#000"/>
<rect x="9" y="89" width="5" height="51" fill="#000"/>
<rect x="10" y="90" width="3" height="49" fill="#fff"/>
<rect x="19" y="81" width="1" height="62" fill="#000"/>
<rect x="17" y="89" width="5" height="51" fill="#000"/>
<rect x="27" y="130" width="1" height="73" fill="#000"/>
<rect x="25" y="138" width="5" height="20" fill="#000"/>
<rect x="35" y="158" width="1" height="115" fill="#000"/>
<rect x="33" y="158" width="5" height="73" fill="#000"/>
<rect x="43" y="179" width="1" height="53" fill="#000"/>
<rect x="41" y="209" width="5" height="20" fill="#000"/>
<rect x="42" y="210" width="3" height="18" fill="#fff"/>
<rect x="51" y="168" width="1" height="151" fill="#000"/>
<rect x="49" y="208" width="5" height="89" fill="#000"/>
<rect x="59" y="258" width="1" height="49" fill="#000"/>
<rect x="57" y="286" width="5" height="11" fill="#000"/>
<rect x="58" y="287" width="3" height="9" fill="#fff"/>
<rect x="67" y="287" width="1" height="64" fill="#000"/>
<rect x="65" y="287" width="5" height="47" fill="#000"/>
<rect x="75" y="326" width="1" height="147" fill="#000"/>
<rect x="73" y="333" width="5" height="109" fill="#000"/>
<rect x="83" y="402" width="1" height="69" fill="#000"/>
<rect x="81" y="440" width="5" height="23" fill="#000"/>
<rect x="91" y="396" width="1" height="71" fill="#000"/>
<rect x="89" y="412" width="5" height="46" fill="#000"/>
<rect x="90" y="413" width="3" height="44" fill="#fff"/>
<rect x="99" y="371" width="1" height="50" fill="#000"/>
<rect x="97" y="374" width="5" height="38" fill="#000"/>
<rect x="98" y="375" width="3" height="36" fill="#fff"/>
<rect x="107" y="345" width="1" height="45" fill="#000"/>
<rect x="105" y="374" width="5" height="2" fill="#000"/>
<rect x="115" y="371" width="1" height="52" fill="#000"/>
<rect x="113" y="375" width="5" height="32" fill="#000"/>
<rect x="123" y="392" width="1" height="57" fill="#000"/>
<rect x="121" y="408" width="5" height="29" fill="#000"/>
<rect x="131" y="391" width="1" height="93" fill="#000"/>
<rect x="129" y="392" width="5" height="43" fill="#000"/>
<rect x="130" y="393" width="3" height="41" fill="#fff"/>
<rect x="139" y="369" width="1" height="32" fill="#000"/>
<rect x="137" y="375" width="5" height="17" fill="#000"/>
<rect x="138" y="376" width="3" height="15" fill="#fff"/>
<rect x="147" y="364" width="1" height="67" fill="#000"/>
<rect x="145" y="375" width="5" height="56" fill="#000"/>
<rect x="155" y="380" width="1" height="82" fill="#000"/>
<rect x="153" y="432" width="5" height="30" fill="#000"/>
<rect x="163" y="461" width="1" height="67" fill="#000"/>
<rect x="161" y="461" width="5" height="30" fill="#000"/>
<rect x="171" y="411" width="1" height="89" fill="#000"/>
<rect x="169" y="428" width="5" height="65" fill="#000"/>
<rect x="170" y="429" width="3" height="63" fill="#fff"/>
<rect x="179" y="410" width="1" height="67" fill="#000"/>
<rect x="177" y="412" width="5" height="18" fill="#000"/>
<rect x="178" y="413" width="3" height="16" fill="#fff"/>
<rect x="187" y="345" width="1" height="68" fill="#000"/>
<rect x="185" y="401" width="5" height="12" fill="#000"/>
<rect x="186" y="402" width="3" height="10" fill="#fff"/>
<rect x="195" y="291" width="1" height="118" fill="#000"/>
<rect x="193" y="353" width="5" height="49" fill="#000"/>
<rect x="194" y="354" width="3" height="47" fill="#fff"/>
<rect x="203" y="334" width="1" height="89" fill="#000"/>
<rect x="201" y="352" width="5" height="64" fill="#000"/>
<rect x="211" y="324" width="1" height="112" fill="#000"/>
<rect x="209" y="380" width="5" height="35" fill="#000"/>
<rect x="210" y="381" width="3" height="33" fill="#fff"/>
<rect x="219" y="346" width="1" height="72" fill="#000"/>
<rect x="217" y="364" width="5" height="15" fill="#000"/>
<rect x="218" y="365" width="3" height="13" fill="#fff"/>
<rect x="227" y="343" width="1" height="55" fill="#000"/>
<rect x="225" y="364" width="5" height="25" fill="#000"/>
<rect x="235" y="337" width="1" height="107" fill="#000"/>
<rect x="233" y="388" width="5" height="38" fill="#000"/>
<rect x="243" y="344" width="1" height="103" fill="#000"/>
<rect x="241" y="368" width="5" height="61" fill="#000"/>
<rect x="242" y="369" width="3" height="59" fill="#fff"/>
<rect x="251" y="360" width="1" height="59" fill="#000"/>
<rect x="249" y="370" width="5" height="49" fill="#000"/>
<rect x="259" y="402" width="1" height="41" fill="#000"/>
<rect x="257" y="419" width="5" height="24" fill="#000"/>
<rect x="267" y="419" width="1" height="42" fill="#000"/>
<rect x="265" y="442" width="5" height="9" fill="#000"/>
<rect x="275" y="410" width="1" height="76" fill="#000"/>
<rect x="273" y="449" width="5" height="12" fill="#000"/>
<rect x="283" y="414" width="1" height="57" fill="#000"/>
<rect x="281" y="436" width="5" height="27" fill="#000"/>
<rect x="282" y="437" width="3" height="25" fill="#fff"/>
<rect x="291" y="432" width="1" height="69" fill="#000"/>
<rect x="289" y="434" width="5" height="36" fill="#000"/>
<rect x="299" y="411" width="1" height="73" fill="#000"/>
<rect x="297" y="436" width="5" height="34" fill="#000"/>
<rect x="298" y="437" width="3" height="32" fill="#fff"/>
<rect x="307" y="375" width="1" height="88" fill="#000"/>
<rect x="305" y="400" width="5" height="38" fill="#000"/>
<rect x="306" y="401" width="3" height="36" fill="#fff"/>
<rect x="315" y="358" width="1" height="60" fill="#000"/>
<rect x="313" y="364" width="5" height="39" fill="#000"/>
<rect x="314" y="365" width="3" height="37" fill="#fff"/>
<rect x="323" y="348" width="1" height="77" fill="#000"/>
<rect x="321" y="364" width="5" height="40" fill="#000"/>
<rect x="331" y="361" width="1" height="50" fill="#000"/>
<rect x="329" y="395" width="5" height="9" fill="#000"/>
<rect x="330" y="396" width="3" height="7" fill="#fff"/>
<rect x="339" y="386" width="1" height="30" fill="#000"/>
<rect x="337" y="395" width="5" height="3" fill="#000"/>
<rect x="347" y="345" width="1" height="63" fill="#000"/>
<rect x="345" y="369" width="5" height="28" fill="#000"/>
<rect x="346" y="370" width="3" height="26" fill="#fff"/>
<rect x="355" y="332" width="1" height="47" fill="#000"/>
<rect x="353" y="356" width="5" height="13" fill="#000"/>
<rect x="354" y="357" width="3" height="11" fill="#fff"/>
<rect x="363" y="262" width="1" height="95" fill="#000"/>
<rect x="361" y="267" width="5" height="90" fill="#000"/>
<rect x="362" y="268" width="3" height="88" fill="#fff"/>
<rect x="371" y="251" width="1" height="55" fill="#000"/>
<rect x="369" y="265" width="5" height="13" fill="#000"/>
<rect x="379" y="194" width="1" height="84" fill="#000"/>
<rect x="377" y="232" width="5" height="46" fill="#000"/>
<rect x="378" y="233" width="3" height="44" fill="#fff"/>
<rect x="387" y="212" width="1" height="134" fill="#000"/>
<rect x="385" y="230" width="5" height="86" fill="#000"/>
<rect x="395" y="254" width="1" height="106" fill="#000"/>
<rect x="393" y="300" width="5" height="16" fill="#000"/>
<rect x="394" y="301" width="3" height="14" fill="#fff"/>
<rect x="403" y="262" width="1" height="73" fill="#000"/>
<rect x="401" y="300" width="5" height="12" fill="#000"/>
<rect x="411" y="310" width="1" height="65" fill="#000"/>
<rect x="409" y="310" width="5" height="63" fill="#000"/>
<rect x="419" y="357" width="1" height="87" fill="#000"/>
<rect x="417" y="372" width="5" height="2" fill="#000"/>
<rect x="427" y="332" width="1" height="94" fill="#000"/>
<rect x="425" y="371" width="5" height="52" fill="#000"/>
<rect x="435" y="346" width="1" height="84" fill="#000"/>
<rect x="433" y="419" width="5" height="4" fill="#000"/>
<rect x="434" y="420" width="3" height="2" fill="#fff"/>
<rect x="443" y="364" width="1" height="117" fill="#000"/>
<rect x="441" y="385" width="5" height="35" fill="#000"/>
<rect x="442" y="386" width="3" height="33" fill="#fff"/>
<rect x="451" y="311" width="1" height="86" fill="#000"/>
<rect x="449" y="326" width="5" height="55" fill="#000"/>
<rect x="450" y="327" width="3" height="53" fill="#fff"/>
<rect x="459" y="324" width="1" height="102" fill="#000"/>
<rect x="457" y="324" width="5" height="48" fill="#000"/>
<rect x="467" y="324" width="1" height="57" fill="#000"/>
<rect x="465" y="366" width="5" height="6" fill="#000"/>
<rect x="466" y="367" width="3" height="4" fill="#fff"/>
<rect x="475" y="342" width="1" height="51" fill="#000"/>
<rect x="473" y="361" width="5" height="6" fill="#000"/>
<rect x="474" y="362" width="3" height="4" fill="#fff"/>
<rect x="483" y="332" width="1" height="63" fill="#000"/>
<rect x="481" y="355" width="5" height="5" fill="#000"/>
<rect x="482" y="356" width="3" height="3" fill="#fff"/>
<rect x="491" y="336" width="1" height="28" fill="#000"/>
<rect x="489" y="352" width="5" height="10" fill="#000"/>
<rect x="499" y="336" width="1" height="36" fill="#000"/>
<rect x="497" y="352" width="5" height="12" fill="#000"/>
<rect x="498" y="353" width="3" height="10" fill="#fff"/>
<rect x="507" y="345" width="1" height="121" fill="#000"/>
<rect x="505" y="352" width="5" height="107" fill="#000"/>
<rect x="515" y="420" width="1" height="60" fill="#000"/>
<rect x="513" y="451" width="5" height="7" fill="#000"/>
<rect x="514" y="452" width="3" height="5" fill="#fff"/>
<rect x="523" y="451" width="1" height="115" fill="#000"/>
<rect x="521" y="451" width="5" height="96" fill="#000"/>
<rect x="531" y="490" width="1" height="58" fill="#000"/>
<rect x="529" y="505" width="5" height="43" fill="#000"/>
<rect x="530" y="506" width="3" height="41" fill="#fff"/>
<rect x="539" y="473" width="1" height="41" fill="#000"/>
<rect x="537" y="507" width="5" height="6" fill="#000"/>
<rect x="547" y="490" width="1" height="74" fill="#000"/>
<rect x="545" y="513" width="5" height="27" fill="#000"/>
<rect x="555" y="534" width="1" height="101" fill="#000"/>
<rect x="553" y="539" width="5" height="82" fill="#000"/>
<rect x="563" y="586" width="1" height="53" fill="#000"/>
<rect x="561" y="620" width="5" height="17" fill="#000"/>
<rect x="571" y="577" width="1" height="71" fill="#000"/>
<rect x="569" y="610" width="5" height="27" fill="#000"/>
<rect x="570" y="611" width="3" height="25" fill="#fff"/>
<rect x="579" y="590" width="1" height="33" fill="#000"/>
<rect x="577" y="609" width="5" height="4" fill="#000"/>
<rect x="587" y="577" width="1" height="52" fill="#000"/>
<rect x="585" y="585" width="5" height="29" fill="#000"/>
<rect x="586" y="586" width="3" height="27" fill="#fff"/>
<rect x="595" y="545" width="1" height="47" fill="#000"/>
<rect x="593" y="559" width="5" height="27" fill="#000"/>
<rect x="594" y="560" width="3" height="25" fill="#fff"/>
<rect x="603" y="528" width="1" height="77" fill="#000"/>
<rect x="601" y="540" width="5" height="20" fill="#000"/>
<rect x="602" y="541" width="3" height="18" fill="#fff"/>
<rect x="611" y="503" width="1" height="48" fill="#000"/>
<rect x="609" y="505" width="5" height="36" fill="#000"/>
<rect x="610" y="506" width="3" height="34" fill="#fff"/>
<rect x="619" y="499" width="1" height="52" fill="#000"/>
<rect x="617" y="506" width="5" height="18" fill="#000"/>
<rect x="627" y="513" width="1" height="33" fill="#000"/>
<rect x="625" y="522" width="5" height="18" fill="#000"/>
<rect x="635" y="530" width="1" height="42" fill="#000"/>
<rect x="633" y="539" width="5" height="29" fill="#000"/>
<rect x="643" y="543" width="1" height="54" fill="#000"/>
<rect x="641" y="547" width="5" height="20" fill="#000"/>
<rect x="642" y="548" width="3" height="18" fill="#fff"/>
<rect x="651" y="534" width="1" height="32" fill="#000"/>
<rect x="649" y="550" width="5" height="7" fill="#000"/>
<rect x="659" y="535" width="1" height="36" fill="#000"/>
<rect x="657" y="545" width="5" height="26" fill="#000"/>
<rect x="658" y="546" width="3" height="24" fill="#fff"/>
<rect x="667" y="535" width="1" height="15" fill="#000"/>
<rect x="665" y="539" width="5" height="6" fill="#000"/>
<rect x="666" y="540" width="3" height="4" fill="#fff"/>
<rect x="675" y="506" width="1" height="41" fill="#000"/>
<rect x="673" y="522" width="5" height="19" fill="#000"/>
<rect x="674" y="523" width="3" height="17" fill="#fff"/>
<rect x="683" y="504" width="1" height="48" fill="#000"/>
<rect x="681" y="522" width="5" height="6" fill="#000"/>
<rect x="691" y="520" width="1" height="26" fill="#000"/>
<rect x="689" y="527" width="5" height="8" fill="#000"/>
<rect x="699" y="532" width="1" height="50" fill="#000"/>
<rect x="697" y="536" width="5" height="26" fill="#000"/>
<rect x="707" y="523" width="1" height="44" fill="#000"/>
<rect x="705" y="554" width="5" height="9" fill="#000"/>
<rect x="706" y="555" width="3" height="7" fill="#fff"/>
<rect x="715" y="530" width="1" height="27" fill="#000"/>
<rect x="713" y="550" width="5" height="5" fill="#000"/>
<rect x="714" y="551" width="3" height="3" fill="#fff"/>
<rect x="723" y="499" width="1" height="53" fill="#000"/>
<rect x="721" y="513" width="5" height="36" fill="#000"/>
<rect x="722" y="514" width="3" height="34" fill="#fff"/>
<rect x="731" y="492" width="1" height="34" fill="#000"/>
<rect x="729" y="508" width="5" height="6" fill="#000"/>
<rect x="730" y="509" width="3" height="4" fill="#fff"/>
<rect x="739" y="487" width="1" height="92" fill="#000"/>
<rect x="737" y="508" width="5" height="66" fill="#000"/>
<rect x="747" y="552" width="1" height="96" fill="#000"/>
<rect x="745" y="574" width="5" height="53" fill="#000"/>
<rect x="755" y="595" width="1" height="104" fill="#000"/>
<rect x="753" y="599" width="5" height="24" fill="#000"/>
<rect x="754" y="600" width="3" height="22" fill="#fff"/>
<rect x="763" y="543" width="1" height="66" fill="#000"/>
<rect x="761" y="599" width="5" height="10" fill="#000"/>
<rect x="771" y="566" width="1" height="108" fill="#000"/>
<rect x="769" y="605" width="5" height="38" fill="#000"/>
<rect x="779" y="572" width="1" height="78" fill="#000"/>
<rect x="777" y="609" width="5" height="33" fill="#000"/>
<rect x="778" y="610" width="3" height="31" fill="#fff"/>
<rect x="787" y="595" width="1" height="141" fill="#000"/>
<rect x="785" y="609" width="5" height="62" fill="#000"/>
<rect x="795" y="640" width="1" height="84" fill="#000"/>
<rect x="793" y="667" width="5" height="39" fill="#000"/>
<rect x="803" y="649" width="1" height="79" fill="#000"/>
<rect x="801" y="699" width="5" height="7" fill="#000"/>
<rect x="802" y="700" width="3" height="5" fill="#fff"/>
<rect x="811" y="664" width="1" height="69" fill="#000"/>
<rect x="809" y="692" width="5" height="9" fill="#000"/>
<rect x="810" y="693" width="3" height="7" fill="#fff"/>
<rect x="819" y="591" width="1" height="105" fill="#000"/>
<rect x="817" y="609" width="5" height="84" fill="#000"/>
<rect x="818" y="610" width="3" height="82" fill="#fff"/>
<rect x="827" y="579" width="1" height="76" fill="#000"/>
<rect x="825" y="609" width="5" height="42" fill="#000"/>
<rect x="835" y="618" width="1" height="40" fill="#000"/>
<rect x="833" y="628" width="5" height="21" fill="#000"/>
<rect x="834" y="629" width="3" height="19" fill="#fff"/>
<rect x="843" y="610" width="1" height="49" fill="#000"/>
<rect x="841" y="628" width="5" height="13" fill="#000"/>
<rect x="851" y="623" width="1" height="48" fill="#000"/>
<rect x="849" y="637" width="5" height="15" fill="#000"/>
<rect x="859" y="604" width="1" height="57" fill="#000"/>
<rect x="857" y="616" width="5" height="38" fill="#000"/>
<rect x="858" y="617" width="3" height="36" fill="#fff"/>
<rect x="867" y="573" width="1" height="59" fill="#000"/>
<rect x="865" y="590" width="5" height="28" fill="#000"/>
<rect x="866" y="591" width="3" height="26" fill="#fff"/>
<rect x="875" y="583" width="1" height="26" fill="#000"/>
<rect x="873" y="590" width="5" height="13" fill="#000"/>
<rect x="883" y="591" width="1" height="52" fill="#000"/>
<rect x="881" y="602" width="5" height="24" fill="#000"/>
<rect x="891" y="621" width="1" height="48" fill="#000"/>
<rect x="889" y="623" width="5" height="11" fill="#000"/>
<rect x="899" y="617" width="1" height="38" fill="#000"/>
<rect x="897" y="632" width="5" height="4" fill="#000"/>
<rect x="907" y="609" width="1" height="32" fill="#000"/>
<rect x="905" y="619" width="5" height="17" fill="#000"/>
<rect x="906" y="620" width="3" height="15" fill="#fff"/>
<rect x="915" y="609" width="1" height="62" fill="#000"/>
<rect x="913" y="619" width="5" height="49" fill="#000"/>
<rect x="923" y="649" width="1" height="59" fill="#000"/>
<rect x="921" y="667" width="5" height="32" fill="#000"/>
<rect x="931" y="640" width="1" height="67" fill="#000"/>
<rect x="929" y="656" width="5" height="42" fill="#000"/>
<rect x="930" y="657" width="3" height="40" fill="#fff"/>
<rect x="939" y="652" width="1" height="58" fill="#000"/>
<rect x="937" y="657" width="5" height="39" fill="#000"/>
<rect x="947" y="665" width="1" height="64" fill="#000"/>
<rect x="945" y="692" width="5" height="31" fill="#000"/>
<rect x="955" y="706" width="1" height="97" fill="#000"/>
<rect x="953" y="720" width="5" height="44" fill="#000"/>
<rect x="963" y="736" width="1" height="67" fill="#000"/>
<rect x="961" y="748" width="5" height="15" fill="#000"/>
<rect x="962" y="749" width="3" height="13" fill="#fff"/>
<rect x="971" y="746" width="1" height="72" fill="#000"/>
<rect x="969" y="746" width="5" height="57" fill="#000"/>
<rect x="979" y="738" width="1" height="109" fill="#000"/>
<rect x="977" y="756" width="5" height="46" fill="#000"/>
<rect x="978" y="757" width="3" height="44" fill="#fff"/>
<rect x="987" y="749" width="1" height="47" fill="#000"/>
<rect x="985" y="753" width="5" height="22" fill="#000"/>
<rect x="995" y="734" width="1" height="50" fill="#000"/>
<rect x="993" y="744" width="5" height="31" fill="#000"/>
<rect x="994" y="745" width="3" height="29" fill="#fff"/>
<rect x="1003" y="683" width="1" height="71" fill="#000"/>
<rect x="1001" y="700" width="5" height="44" fill="#000"/>
<rect x="1002" y="701" width="3" height="42" fill="#fff"/>
<rect x="1011" y="674" width="1" height="57" fill="#000"/>
<rect x="1009" y="700" width="5" height="29" fill="#000"/>
<rect x="1019" y="710" width="1" height="36" fill="#000"/>
<rect x="1017" y="713" width="5" height="15" fill="#000"/>
<rect x="1018" y="714" width="3" height="13" fill="#fff"/>
<rect x="1027" y="706" width="1" height="96" fill="#000"/>
<rect x="1025" y="714" width="5" height="65" fill="#000"/>
<rect x="1035" y="721" width="1" height="67" fill="#000"/>
<rect x="1033" y="735" width="5" height="45" fill="#000"/>
<rect x="1034" y="736" width="3" height="43" fill="#fff"/>
<rect x="1043" y="683" width="1" height="80" fill="#000"/>
<rect x="1041" y="693" width="5" height="42" fill="#000"/>
<rect x="1042" y="694" width="3" height="40" fill="#fff"/>
<rect x="1051" y="643" width="1" height="71" fill="#000"/>
<rect x="1049" y="647" width="5" height="45" fill="#000"/>
<rect x="1050" y="648" width="3" height="43" fill="#fff"/>
<rect x="1059" y="608" width="1" height="51" fill="#000"/>
<rect x="1057" y="641" width="5" height="6" fill="#000"/>
<rect x="1058" y="642" width="3" height="4" fill="#fff"/>
<rect x="1067" y="604" width="1" height="53" fill="#000"/>
<rect x="1065" y="622" width="5" height="21" fill="#000"/>
<rect x="1066" y="623" width="3" height="19" fill="#fff"/>
<rect x="1075" y="604" width="1" height="56" fill="#000"/>
<rect x="1073" y="621" width="5" height="3" fill="#000"/>
<rect x="1083" y="609" width="1" height="41" fill="#000"/>
<rect x="1081" y="623" width="5" height="6" fill="#000"/>
<rect x="1091" y="574" width="1" height="58" fill="#000"/>
<rect x="1089" y="604" width="5" height="25" fill="#000"/>
<rect x="1090" y="605" width="3" height="23" fill="#fff"/>
<rect x="1099" y="590" width="1" height="68" fill="#000"/>
<rect x="1097" y="595" width="5" height="6" fill="#000"/>
<rect x="1098" y="596" width="3" height="4" fill="#fff"/>
<rect x="1107" y="576" width="1" height="29" fill="#000"/>
<rect x="1105" y="593" width="5" height="4" fill="#000"/>
<rect x="1106" y="594" width="3" height="2" fill="#fff"/>
<rect x="1115" y="566" width="1" height="60" fill="#000"/>
<rect x="1113" y="594" width="5" height="20" fill="#000"/>
<rect x="1123" y="602" width="1" height="56" fill="#000"/>
<rect x="1121" y="609" width="5" height="42" fill="#000"/>
<rect x="1131" y="576" width="1" height="81" fill="#000"/>
<rect x="1129" y="578" width="5" height="73" fill="#000"/>
<rect x="1130" y="579" width="3" height="71" fill="#fff"/>
<rect x="1139" y="552" width="1" height="35" fill="#000"/>
<rect x="1137" y="556" width="5" height="23" fill="#000"/>
<rect x="1138" y="557" width="3" height="21" fill="#fff"/>
<rect x="1147" y="517" width="1" height="81" fill="#000"/>
<rect x="1145" y="556" width="5" height="41" fill="#000"/>
<rect x="1155" y="483" width="1" height="114" fill="#000"/>
<rect x="1153" y="517" width="5" height="79" fill="#000"/>
<rect x="1154" y="518" width="3" height="77" fill="#fff"/>
<rect x="1163" y="479" width="1" height="48" fill="#000"/>
<rect x="1161" y="513" width="5" height="5" fill="#000"/>
<rect x="1162" y="514" width="3" height="3" fill="#fff"/>
<rect x="1171" y="504" width="1" height="58" fill="#000"/>
<rect x="1169" y="510" width="5" height="27" fill="#000"/>
<rect x="1179" y="517" width="1" height="50" fill="#000"/>
<rect x="1177" y="533" width="5" height="4" fill="#000"/>
<rect x="1178" y="534" width="3" height="2" fill="#fff"/>
<rect x="1187" y="520" width="1" height="79" fill="#000"/>
<rect x="1185" y="531" width="5" height="58" fill="#000"/>
<rect x="1195" y="530" width="1" height="61" fill="#000"/>
<rect x="1193" y="535" width="5" height="54" fill="#000"/>
<rect x="1194" y="536" width="3" height="52" fill="#fff"/>
<rect x="1203" y="494" width="1" height="47" fill="#000"/>
<rect x="1201" y="511" width="5" height="25" fill="#000"/>
<rect x="1202" y="512" width="3" height="23" fill="#fff"/>
<rect x="1211" y="423" width="1" height="105" fill="#000"/>
<rect x="1209" y="446" width="5" height="66" fill="#000"/>
<rect x="1210" y="447" width="3" height="64" fill="#fff"/>
<rect x="1219" y="434" width="1" height="71" fill="#000"/>
<rect x="1217" y="443" width="5" height="49" fill="#000"/>
<rect x="1227" y="490" width="1" height="51" fill="#000"/>
<rect x="1225" y="490" width="5" height="24" fill="#000"/>
<rect x="1235" y="494" width="1" height="65" fill="#000"/>
<rect x="1233" y="512" width="5" height="27" fill="#000"/>
<rect x="1243" y="514" width="1" height="45" fill="#000"/>
<rect x="1241" y="524" width="5" height="16" fill="#000"/>
<rect x="1242" y="525" width="3" height="14" fill="#fff"/>
<rect x="1251" y="510" width="1" height="48" fill="#000"/>
<rect x="1249" y="522" width="5" height="30" fill="#000"/>
<rect x="1259" y="503" width="1" height="85" fill="#000"/>
<rect x="1257" y="550" width="5" height="33" fill="#000"/>
<rect x="1267" y="534" width="1" height="78" fill="#000"/>
<rect x="1265" y="580" width="5" height="27" fill="#000"/>
<rect x="1275" y="581" width="1" height="58" fill="#000"/>
<rect x="1273" y="604" width="5" height="23" fill="#000"/>
<rect x="1283" y="598" width="1" height="82" fill="#000"/>
<rect x="1281" y="619" width="5" height="46" fill="#000"/>
<rect x="1291" y="664" width="1" height="113" fill="#000"/>
<rect x="1289" y="664" width="5" height="101" fill="#000"/>
<rect x="1299" y="750" width="1" height="78" fill="#000"/>
<rect x="1297" y="766" width="5" height="19" fill="#000"/>
<rect x="1307" y="691" width="1" height="136" fill="#000"/>
<rect x="1305" y="697" width="5" height="86" fill="#000"/>
<rect x="1306" y="698" width="3" height="84" fill="#fff"/>
<rect x="1315" y="668" width="1" height="47" fill="#000"/>
<rect x="1313" y="674" width="5" height="22" fill="#000"/>
<rect x="1314" y="675" width="3" height="20" fill="#fff"/>
<rect x="1323" y="674" width="1" height="39" fill="#000"/>
<rect x="1321" y="674" width="5" height="22" fill="#000"/>
<rect x="1331" y="655" width="1" height="87" fill="#000"/>
<rect x="1329" y="696" width="5" height="38" fill="#000"/>
<rect x="1339" y="718" width="1" height="43" fill="#000"/>
<rect x="1337" y="733" width="5" height="14" fill="#000"/>
<rect x="1347" y="708" width="1" height="58" fill="#000"/>
<rect x="1345" y="710" width="5" height="38" fill="#000"/>
<rect x="1346" y="711" width="3" height="36" fill="#fff"/>
<rect x="1355" y="655" width="1" height="59" fill="#000"/>
<rect x="1353" y="688" width="5" height="22" fill="#000"/>
<rect x="1354" y="689" width="3" height="20" fill="#fff"/>
<rect x="1363" y="634" width="1" height="68" fill="#000"/>
<rect x="1361" y="654" width="5" height="34" fill="#000"/>
<rect x="1362" y="655" width="3" height="32" fill="#fff"/>
<rect x="1371" y="644" width="1" height="67" fill="#000"/>
<rect x="1369" y="655" width="5" height="43" fill="#000"/>
<rect x="1379" y="631" width="1" height="68" fill="#000"/>
<rect x="1377" y="663" width="5" height="34" fill="#000"/>
<rect x="1378" y="664" width="3" height="32" fill="#fff"/>
<rect x="1387" y="659" width="1" height="34" fill="#000"/>
<rect x="1385" y="662" width="5" height="16" fill="#000"/>
<rect x="1395" y="641" width="1" height="38" fill="#000"/>
<rect x="1393" y="653" width="5" height="24" fill="#000"/>
<rect x="1394" y="654" width="3" height="22" fill="#fff"/>
<rect x="1403" y="640" width="1" height="48" fill="#000"/>
<rect x="1401" y="654" width="5" height="16" fill="#000"/>
<rect x="1411" y="654" width="1" height="32" fill="#000"/>
<rect x="1409" y="669" width="5" height="3" fill="#000"/>
<rect x="1410" y="670" width="3" height="1" fill="#fff"/>
<rect x="1419" y="668" width="1" height="45" fill="#000"/>
<rect x="1417" y="671" width="5" height="32" fill="#000"/>
<rect x="1427" y="650" width="1" height="73" fill="#000"/>
<rect x="1425" y="706" width="5" height="4" fill="#000"/>
<rect x="1426" y="707" width="3" height="2" fill="#fff"/>
<rect x="1435" y="649" width="1" height="59" fill="#000"/>
<rect x="1433" y="681" width="5" height="11" fill="#000"/>
<rect x="1434" y="682" width="3" height="9" fill="#fff"/>
<rect x="1443" y="638" width="1" height="44" fill="#000"/>
<rect x="1441" y="660" width="5" height="20" fill="#000"/>
<rect x="1442" y="661" width="3" height="18" fill="#fff"/>
<rect x="1451" y="649" width="1" height="37" fill="#000"/>
<rect x="1449" y="662" width="5" height="20" fill="#000"/>
<rect x="1459" y="655" width="1" height="37" fill="#000"/>
<rect x="1457" y="660" width="5" height="22" fill="#000"/>
<rect x="1458" y="661" width="3" height="20" fill="#fff"/>
<rect x="1467" y="642" width="1" height="33" fill="#000"/>
<rect x="1465" y="654" width="5" height="10" fill="#000"/>
<rect x="1466" y="655" width="3" height="8" fill="#fff"/>
<rect x="1475" y="620" width="1" height="37" fill="#000"/>
<rect x="1473" y="645" width="5" height="10" fill="#000"/>
<rect x="1474" y="646" width="3" height="8" fill="#fff"/>
<rect x="1483" y="645" width="1" height="12" fill="#000"/>
<rect x="1481" y="645" width="5" height="10" fill="#000"/>
</g>
<circle cx="35.2" cy="272" r="2.5" fill="#000"/>
<circle cx="51.2" cy="318.5" r="2.5" fill="#000"/>
<circle cx="67.2" cy="350.5" r="2.5" fill="#000"/>
<circle cx="75.2" cy="472.5" r="2.5" fill="#000"/>
<circle cx="131.2" cy="483.5" r="2.5" fill="#000"/>
<circle cx="163.2" cy="527.5" r="2.5" fill="#000"/>
<circle cx="187.2" cy="345" r="2.5" fill="#000"/>
<circle cx="267.2" cy="461" r="2.5" fill="#000"/>
<circle cx="275.2" cy="485.5" r="2.5" fill="#000"/>
<circle cx="291.2" cy="500.5" r="2.5" fill="#000"/>
<circle cx="315.2" cy="358" r="2.5" fill="#000"/>
<circle cx="323.2" cy="348" r="2.5" fill="#000"/>
<circle cx="347.2" cy="344.7" r="2.5" fill="#000"/>
<circle cx="355.2" cy="331.7" r="2.5" fill="#000"/>
<circle cx="363.2" cy="261.6" r="2.5" fill="#000"/>
<circle cx="371.2" cy="250.7" r="2.5" fill="#000"/>
<circle cx="379.2" cy="194" r="2.5" fill="#000"/>
<circle cx="419.2" cy="443.5" r="2.5" fill="#000"/>
<circle cx="443.2" cy="480.2" r="2.5" fill="#000"/>
<circle cx="515.2" cy="479.2" r="2.5" fill="#000"/>
<circle cx="523.2" cy="565.9" r="2.5" fill="#000"/>
<circle cx="555.2" cy="634.5" r="2.5" fill="#000"/>
<circle cx="563.2" cy="638.5" r="2.5" fill="#000"/>
<circle cx="571.2" cy="647.9" r="2.5" fill="#000"/>
<circle cx="619.2" cy="499" r="2.5" fill="#000"/>
<circle cx="723.2" cy="498.6" r="2.5" fill="#000"/>
<circle cx="731.2" cy="492" r="2.5" fill="#000"/>
<circle cx="739.2" cy="487" r="2.5" fill="#000"/>
<circle cx="747.2" cy="647.1" r="2.5" fill="#000"/>
<circle cx="755.2" cy="698" r="2.5" fill="#000"/>
<circle cx="787.2" cy="735.5" r="2.5" fill="#000"/>
<circle cx="867.2" cy="573" r="2.5" fill="#000"/>
<circle cx="891.2" cy="668.9" r="2.5" fill="#000"/>
<circle cx="923.2" cy="707.9" r="2.5" fill="#000"/>
<circle cx="939.2" cy="709.5" r="2.5" fill="#000"/>
<circle cx="947.2" cy="728.5" r="2.5" fill="#000"/>
<circle cx="955.2" cy="802.9" r="2.5" fill="#000"/>
<circle cx="971.2" cy="817.5" r="2.5" fill="#000"/>
<circle cx="979.2" cy="846" r="2.5" fill="#000"/>
<circle cx="1051.2" cy="643" r="2.5" fill="#000"/>
<circle cx="1059.2" cy="607.7" r="2.5" fill="#000"/>
<circle cx="1067.2" cy="603.5" r="2.5" fill="#000"/>
<circle cx="1091.2" cy="574.5" r="2.5" fill="#000"/>
<circle cx="1115.2" cy="566" r="2.5" fill="#000"/>
<circle cx="1123.2" cy="657.5" r="2.5" fill="#000"/>
<circle cx="1139.2" cy="551.6" r="2.5" fill="#000"/>
<circle cx="1147.2" cy="516.8" r="2.5" fill="#000"/>
<circle cx="1155.2" cy="483" r="2.5" fill="#000"/>
<circle cx="1163.2" cy="479" r="2.5" fill="#000"/>
<circle cx="1211.2" cy="423.4" r="2.5" fill="#000"/>
<circle cx="1259.2" cy="587.5" r="2.5" fill="#000"/>
<circle cx="1267.2" cy="611.5" r="2.5" fill="#000"/>
<circle cx="1275.2" cy="638.5" r="2.5" fill="#000"/>
<circle cx="1283.2" cy="679.9" r="2.5" fill="#000"/>
<circle cx="1291.2" cy="776.5" r="2.5" fill="#000"/>
<circle cx="1299.2" cy="827.9" r="2.5" fill="#000"/>
<circle cx="1355.2" cy="654.6" r="2.5" fill="#000"/>
<circle cx="1363.2" cy="634.4" r="2.5" fill="#000"/>
<circle cx="1379.2" cy="631.3" r="2.5" fill="#000"/>
<circle cx="1419.2" cy="712.5" r="2.5" fill="#000"/>
<circle cx="1427.2" cy="722.5" r="2.5" fill="#000"/>
<circle cx="1475.2" cy="620" r="2.5" fill="#000"/>
<g shape-rendering="crispEdges" fill="#000">
<rect x="2" y="2" width="1872" height="1"/>
<rect x="2" y="2" width="1" height="872"/>
<rect x="2" y="873" width="1872" height="1"/>
<rect x="2" y="875" width="1872" height="1"/>
<rect x="2" y="875" width="1" height="68"/>
<rect x="2" y="942" width="1874" height="1"/>
<rect x="1873" y="2" width="1" height="941"/>
<rect x="1874" y="23" width="2" height="1"/>
<rect x="1874" y="61" width="2" height="1"/>
<rect x="1874" y="99" width="2" height="1"/>
<rect x="1874" y="137" width="2" height="1"/>
<rect x="1874" y="176" width="2" height="1"/>
<rect x="1874" y="214" width="2" height="1"/>
<rect x="1874" y="252" width="2" height="1"/>
<rect x="1874" y="291" width="2" height="1"/>
<rect x="1874" y="329" width="2" height="1"/>
<rect x="1874" y="367" width="2" height="1"/>
<rect x="1874" y="406" width="2" height="1"/>
<rect x="1874" y="444" width="2" height="1"/>
<rect x="1874" y="482" width="2" height="1"/>
<rect x="1874" y="521" width="2" height="1"/>
<rect x="1874" y="559" width="2" height="1"/>
<rect x="1874" y="597" width="2" height="1"/>
<rect x="1874" y="636" width="2" height="1"/>
<rect x="1874" y="674" width="2" height="1"/>
<rect x="1874" y="712" width="2" height="1"/>
<rect x="1874" y="751" width="2" height="1"/>
<rect x="1874" y="789" width="2" height="1"/>
<rect x="1874" y="827" width="2" height="1"/>
<rect x="1874" y="866" width="2" height="1"/>
<rect x="1874" y="876" width="2" height="1"/>
<rect x="3" y="943" width="1" height="3"/>
<rect x="67" y="943" width="1" height="3"/>
<rect x="131" y="943" width="1" height="3"/>
<rect x="195" y="943" width="1" height="3"/>
<rect x="259" y="943" width="1" height="3"/>
<rect x="323" y="943" width="1" height="3"/>
<rect x="387" y="943" width="1" height="3"/>
<rect x="451" y="943" width="1" height="3"/>
<rect x="515" y="943" width="1" height="3"/>
<rect x="579" y="943" width="1" height="3"/>
<rect x="643" y="943" width="1" height="3"/>
<rect x="707" y="943" width="1" height="3"/>
<rect x="771" y="943" width="1" height="3"/>
<rect x="835" y="943" width="1" height="3"/>
<rect x="899" y="943" width="1" height="3"/>
<rect x="963" y="943" width="1" height="3"/>
<rect x="1027" y="943" width="1" height="3"/>
<rect x="1091" y="943" width="1" height="3"/>
<rect x="1155" y="943" width="1" height="3"/>
<rect x="1219" y="943" width="1" height="3"/>
<rect x="1283" y="943" width="1" height="3"/>
<rect x="1347" y="943" width="1" height="3"/>
<rect x="1411" y="943" width="1" height="3"/>
<rect x="1475" y="943" width="1" height="3"/>
</g>
<text x="1879.5" y="27.1" font-size="9.8" fill="#000" text-anchor="start" font-family="Liberation Sans, sans-serif" textLength="32.5" lengthAdjust="spacingAndGlyphs" >107.525</text>
<text x="1879.5" y="65.1" font-size="9.8" fill="#000" text-anchor="start" font-family="Liberation Sans, sans-serif" textLength="32.5" lengthAdjust="spacingAndGlyphs" >107.495</text>
<text x="1879.5" y="103.1" font-size="9.8" fill="#000" text-anchor="start" font-family="Liberation Sans, sans-serif" textLength="32.5" lengthAdjust="spacingAndGlyphs" >107.465</text>
<text x="1879.5" y="141.1" font-size="9.8" fill="#000" text-anchor="start" font-family="Liberation Sans, sans-serif" textLength="32.5" lengthAdjust="spacingAndGlyphs" >107.435</text>
<text x="1879.5" y="180.1" font-size="9.8" fill="#000" text-anchor="start" font-family="Liberation Sans, sans-serif" textLength="32.5" lengthAdjust="spacingAndGlyphs" >107.405</text>
<text x="1879.5" y="218.1" font-size="9.8" fill="#000" text-anchor="start" font-family="Liberation Sans, sans-serif" textLength="32.5" lengthAdjust="spacingAndGlyphs" >107.375</text>
<text x="1879.5" y="256.1" font-size="9.8" fill="#000" text-anchor="start" font-family="Liberation Sans, sans-serif" textLength="32.5" lengthAdjust="spacingAndGlyphs" >107.345</text>
<text x="1879.5" y="295.1" font-size="9.8" fill="#000" text-anchor="start" font-family="Liberation Sans, sans-serif" textLength="32.5" lengthAdjust="spacingAndGlyphs" >107.315</text>
<text x="1879.5" y="333.1" font-size="9.8" fill="#000" text-anchor="start" font-family="Liberation Sans, sans-serif" textLength="32.5" lengthAdjust="spacingAndGlyphs" >107.285</text>
<text x="1879.5" y="371.1" font-size="9.8" fill="#000" text-anchor="start" font-family="Liberation Sans, sans-serif" textLength="32.5" lengthAdjust="spacingAndGlyphs" >107.255</text>
<text x="1879.5" y="410.1" font-size="9.8" fill="#000" text-anchor="start" font-family="Liberation Sans, sans-serif" textLength="32.5" lengthAdjust="spacingAndGlyphs" >107.225</text>
<text x="1879.5" y="448.1" font-size="9.8" fill="#000" text-anchor="start" font-family="Liberation Sans, sans-serif" textLength="32.5" lengthAdjust="spacingAndGlyphs" >107.195</text>
<text x="1879.5" y="486.1" font-size="9.8" fill="#000" text-anchor="start" font-family="Liberation Sans, sans-serif" textLength="32.5" lengthAdjust="spacingAndGlyphs" >107.165</text>
<text x="1879.5" y="525.1" font-size="9.8" fill="#000" text-anchor="start" font-family="Liberation Sans, sans-serif" textLength="32.5" lengthAdjust="spacingAndGlyphs" >107.135</text>
<text x="1879.5" y="563.1" font-size="9.8" fill="#000" text-anchor="start" font-family="Liberation Sans, sans-serif" textLength="32.5" lengthAdjust="spacingAndGlyphs" >107.105</text>
<text x="1879.5" y="601.1" font-size="9.8" fill="#000" text-anchor="start" font-family="Liberation Sans, sans-serif" textLength="32.5" lengthAdjust="spacingAndGlyphs" >107.075</text>
<text x="1879.5" y="640.1" font-size="9.8" fill="#000" text-anchor="start" font-family="Liberation Sans, sans-serif" textLength="32.5" lengthAdjust="spacingAndGlyphs" >107.045</text>
<text x="1879.5" y="678.1" font-size="9.8" fill="#000" text-anchor="start" font-family="Liberation Sans, sans-serif" textLength="32.5" lengthAdjust="spacingAndGlyphs" >107.015</text>
<text x="1879.5" y="716.1" font-size="9.8" fill="#000" text-anchor="start" font-family="Liberation Sans, sans-serif" textLength="32.5" lengthAdjust="spacingAndGlyphs" >106.985</text>
<text x="1879.5" y="755.1" font-size="9.8" fill="#000" text-anchor="start" font-family="Liberation Sans, sans-serif" textLength="32.5" lengthAdjust="spacingAndGlyphs" >106.955</text>
<text x="1879.5" y="793.1" font-size="9.8" fill="#000" text-anchor="start" font-family="Liberation Sans, sans-serif" textLength="32.5" lengthAdjust="spacingAndGlyphs" >106.925</text>
<text x="1879.5" y="831.1" font-size="9.8" fill="#000" text-anchor="start" font-family="Liberation Sans, sans-serif" textLength="32.5" lengthAdjust="spacingAndGlyphs" >106.895</text>
<text x="1879.5" y="870.1" font-size="9.8" fill="#000" text-anchor="start" font-family="Liberation Sans, sans-serif" textLength="32.5" lengthAdjust="spacingAndGlyphs" >106.865</text>
<rect x="1875" y="648" width="41" height="11" fill="#000" shape-rendering="crispEdges"/>
<text x="1879.5" y="656.6" font-size="9.8" fill="#fff" text-anchor="start" font-family="Liberation Sans, sans-serif" textLength="32.5" lengthAdjust="spacingAndGlyphs" >107.032</text>
<text x="1877" y="886.3" font-size="9.8" fill="#000" text-anchor="start" font-family="Liberation Sans, sans-serif" >1</text>
<text x="1877" y="939.3" font-size="9.8" fill="#000" text-anchor="start" font-family="Liberation Sans, sans-serif" >0</text>
<text x="7" y="888" font-size="9.8" fill="#000" text-anchor="start" font-family="Liberation Sans, sans-serif" textLength="171" lengthAdjust="spacingAndGlyphs" >RadsHAS_SW_Ozawa 1H 1.0000 0.0000</text>
<polygon points="6,13 13,13 9.5,8.5" fill="#000"/>
<text x="18.5" y="13.5" font-size="9.8" fill="#000" text-anchor="start" font-family="Liberation Sans, sans-serif" textLength="203.5" lengthAdjust="spacingAndGlyphs" xml:space="preserve">USDJPY,M15  107.038 107.038 107.030 107.032</text>
<g shape-rendering="crispEdges"><rect x="1500" y="55" width="10" height="1" fill="#404040"/><rect x="1510.5" y="49.5" width="41" height="12" fill="none" stroke="#404040" stroke-width="1"/></g>
<text x="1512" y="60.1" font-size="11" fill="#404040" text-anchor="start" font-family="Liberation Sans, sans-serif" textLength="38.2" lengthAdjust="spacingAndGlyphs" >107.500</text>
<g shape-rendering="crispEdges"><rect x="1500" y="182" width="10" height="1" fill="#404040"/><rect x="1510.5" y="176.5" width="41" height="12" fill="none" stroke="#404040" stroke-width="1"/></g>
<text x="1512" y="187.1" font-size="11" fill="#404040" text-anchor="start" font-family="Liberation Sans, sans-serif" textLength="38.2" lengthAdjust="spacingAndGlyphs" >107.400</text>
<g shape-rendering="crispEdges"><rect x="1500" y="310" width="10" height="1" fill="#404040"/><rect x="1510.5" y="304.5" width="41" height="12" fill="none" stroke="#404040" stroke-width="1"/></g>
<text x="1512" y="315.1" font-size="11" fill="#404040" text-anchor="start" font-family="Liberation Sans, sans-serif" textLength="38.2" lengthAdjust="spacingAndGlyphs" >107.300</text>
<g shape-rendering="crispEdges"><rect x="1500" y="438" width="10" height="1" fill="#404040"/><rect x="1510.5" y="432.5" width="41" height="12" fill="none" stroke="#404040" stroke-width="1"/></g>
<text x="1512" y="443.1" font-size="11" fill="#404040" text-anchor="start" font-family="Liberation Sans, sans-serif" textLength="38.2" lengthAdjust="spacingAndGlyphs" >107.200</text>
<g shape-rendering="crispEdges"><rect x="1500" y="566" width="10" height="1" fill="#404040"/><rect x="1510.5" y="560.5" width="41" height="12" fill="none" stroke="#404040" stroke-width="1"/></g>
<text x="1512" y="571.1" font-size="11" fill="#404040" text-anchor="start" font-family="Liberation Sans, sans-serif" textLength="38.2" lengthAdjust="spacingAndGlyphs" >107.100</text>
<g shape-rendering="crispEdges"><rect x="1500" y="694" width="10" height="1" fill="#FF0000"/><rect x="1510.5" y="688.5" width="41" height="12" fill="none" stroke="#FF0000" stroke-width="1"/></g>
<text x="1512" y="699.1" font-size="11" fill="#FF0000" text-anchor="start" font-family="Liberation Sans, sans-serif" textLength="38.2" lengthAdjust="spacingAndGlyphs" >107.000</text>
<g shape-rendering="crispEdges"><rect x="1500" y="821" width="10" height="1" fill="#404040"/><rect x="1510.5" y="815.5" width="41" height="12" fill="none" stroke="#404040" stroke-width="1"/></g>
<text x="1512" y="826.1" font-size="11" fill="#404040" text-anchor="start" font-family="Liberation Sans, sans-serif" textLength="38.2" lengthAdjust="spacingAndGlyphs" >106.900</text>
<text x="66.5" y="955" font-size="9.8" fill="#000" text-anchor="start" font-family="Liberation Sans, sans-serif" textLength="41" lengthAdjust="spacingAndGlyphs" >16 Apr 05</text>
<text x="194.5" y="955" font-size="9.8" fill="#000" text-anchor="start" font-family="Liberation Sans, sans-serif" textLength="41" lengthAdjust="spacingAndGlyphs" >16 Apr 09</text>
<text x="322.5" y="955" font-size="9.8" fill="#000" text-anchor="start" font-family="Liberation Sans, sans-serif" textLength="41" lengthAdjust="spacingAndGlyphs" >16 Apr 13</text>
<text x="450.5" y="955" font-size="9.8" fill="#000" text-anchor="start" font-family="Liberation Sans, sans-serif" textLength="41" lengthAdjust="spacingAndGlyphs" >16 Apr 17</text>
<text x="578.5" y="955" font-size="9.8" fill="#000" text-anchor="start" font-family="Liberation Sans, sans-serif" textLength="41" lengthAdjust="spacingAndGlyphs" >16 Apr 21</text>
<text x="706.5" y="955" font-size="9.8" fill="#000" text-anchor="start" font-family="Liberation Sans, sans-serif" textLength="41" lengthAdjust="spacingAndGlyphs" >17 Apr 01</text>
<text x="834.5" y="955" font-size="9.8" fill="#000" text-anchor="start" font-family="Liberation Sans, sans-serif" textLength="41" lengthAdjust="spacingAndGlyphs" >17 Apr 05</text>
<text x="962.5" y="955" font-size="9.8" fill="#000" text-anchor="start" font-family="Liberation Sans, sans-serif" textLength="41" lengthAdjust="spacingAndGlyphs" >17 Apr 09</text>
<text x="1090.5" y="955" font-size="9.8" fill="#000" text-anchor="start" font-family="Liberation Sans, sans-serif" textLength="41" lengthAdjust="spacingAndGlyphs" >17 Apr 13</text>
<text x="1218.5" y="955" font-size="9.8" fill="#000" text-anchor="start" font-family="Liberation Sans, sans-serif" textLength="41" lengthAdjust="spacingAndGlyphs" >17 Apr 17</text>
<text x="1346.5" y="955" font-size="9.8" fill="#000" text-anchor="start" font-family="Liberation Sans, sans-serif" textLength="41" lengthAdjust="spacingAndGlyphs" >17 Apr 21</text>
<text x="1474.5" y="955" font-size="9.8" fill="#000" text-anchor="start" font-family="Liberation Sans, sans-serif" textLength="41" lengthAdjust="spacingAndGlyphs" >18 Apr 01</text>
<rect x="-21" y="946" width="80" height="11" fill="#000" shape-rendering="crispEdges"/>
<text x="19" y="955" font-size="9.8" fill="#fff" text-anchor="middle" font-family="Liberation Sans, sans-serif" textLength="72" lengthAdjust="spacingAndGlyphs" >2018.04.16 04:00</text>
<rect x="107" y="946" width="80" height="11" fill="#000" shape-rendering="crispEdges"/>
<text x="147" y="955" font-size="9.8" fill="#fff" text-anchor="middle" font-family="Liberation Sans, sans-serif" textLength="72" lengthAdjust="spacingAndGlyphs" >2018.04.16 08:00</text>
<rect x="235" y="946" width="80" height="11" fill="#000" shape-rendering="crispEdges"/>
<text x="275" y="955" font-size="9.8" fill="#fff" text-anchor="middle" font-family="Liberation Sans, sans-serif" textLength="72" lengthAdjust="spacingAndGlyphs" >2018.04.16 12:00</text>
<rect x="363" y="946" width="80" height="11" fill="#000" shape-rendering="crispEdges"/>
<text x="403" y="955" font-size="9.8" fill="#fff" text-anchor="middle" font-family="Liberation Sans, sans-serif" textLength="72" lengthAdjust="spacingAndGlyphs" >2018.04.16 16:00</text>
<rect x="491" y="946" width="80" height="11" fill="#000" shape-rendering="crispEdges"/>
<text x="531" y="955" font-size="9.8" fill="#fff" text-anchor="middle" font-family="Liberation Sans, sans-serif" textLength="72" lengthAdjust="spacingAndGlyphs" >2018.04.16 20:00</text>
<rect x="619" y="946" width="80" height="11" fill="#FF0000" shape-rendering="crispEdges"/>
<text x="659" y="955" font-size="9.8" fill="#fff" text-anchor="middle" font-family="Liberation Sans, sans-serif" textLength="72" lengthAdjust="spacingAndGlyphs" >2018.04.17 00:00</text>
<rect x="747" y="946" width="80" height="11" fill="#000" shape-rendering="crispEdges"/>
<text x="787" y="955" font-size="9.8" fill="#fff" text-anchor="middle" font-family="Liberation Sans, sans-serif" textLength="72" lengthAdjust="spacingAndGlyphs" >2018.04.17 04:00</text>
<rect x="875" y="946" width="80" height="11" fill="#000" shape-rendering="crispEdges"/>
<text x="915" y="955" font-size="9.8" fill="#fff" text-anchor="middle" font-family="Liberation Sans, sans-serif" textLength="72" lengthAdjust="spacingAndGlyphs" >2018.04.17 08:00</text>
<rect x="1003" y="946" width="80" height="11" fill="#000" shape-rendering="crispEdges"/>
<text x="1043" y="955" font-size="9.8" fill="#fff" text-anchor="middle" font-family="Liberation Sans, sans-serif" textLength="72" lengthAdjust="spacingAndGlyphs" >2018.04.17 12:00</text>
<rect x="1131" y="946" width="80" height="11" fill="#000" shape-rendering="crispEdges"/>
<text x="1171" y="955" font-size="9.8" fill="#fff" text-anchor="middle" font-family="Liberation Sans, sans-serif" textLength="72" lengthAdjust="spacingAndGlyphs" >2018.04.17 16:00</text>
<rect x="1259" y="946" width="80" height="11" fill="#000" shape-rendering="crispEdges"/>
<text x="1299" y="955" font-size="9.8" fill="#fff" text-anchor="middle" font-family="Liberation Sans, sans-serif" textLength="72" lengthAdjust="spacingAndGlyphs" >2018.04.17 20:00</text>
<rect x="1387" y="946" width="80" height="11" fill="#FF0000" shape-rendering="crispEdges"/>
<text x="1427" y="955" font-size="9.8" fill="#fff" text-anchor="middle" font-family="Liberation Sans, sans-serif" textLength="72" lengthAdjust="spacingAndGlyphs" >2018.04.18 00:00</text>
<rect x="1515" y="946" width="80" height="11" fill="#000" shape-rendering="crispEdges"/>
<text x="1555" y="955" font-size="9.8" fill="#fff" text-anchor="middle" font-family="Liberation Sans, sans-serif" textLength="72" lengthAdjust="spacingAndGlyphs" >2018.04.18 04:00</text>
<rect x="1643" y="946" width="80" height="11" fill="#000" shape-rendering="crispEdges"/>
<text x="1683" y="955" font-size="9.8" fill="#fff" text-anchor="middle" font-family="Liberation Sans, sans-serif" textLength="72" lengthAdjust="spacingAndGlyphs" >2018.04.18 08:00</text>
<rect x="1771" y="946" width="80" height="11" fill="#000" shape-rendering="crispEdges"/>
<text x="1811" y="955" font-size="9.8" fill="#fff" text-anchor="middle" font-family="Liberation Sans, sans-serif" textLength="72" lengthAdjust="spacingAndGlyphs" >2018.04.18 12:00</text>
<text x="1770.8" y="46.2" font-size="35.3" fill="#FF0000" text-anchor="end" font-family="Liberation Sans, sans-serif" textLength="143.2" lengthAdjust="spacingAndGlyphs" >USDJPY</text>
<text x="1862" y="46.2" font-size="35.3" fill="#FF0000" text-anchor="end" font-family="Liberation Sans, sans-serif" textLength="67.2" lengthAdjust="spacingAndGlyphs" >M15</text>
<rect x="1774.3" y="32" width="17.6" height="3.3" fill="#FF0000"/>
<text x="1862" y="86.2" font-size="35.7" fill="#FF0000" text-anchor="end" font-family="Liberation Sans, sans-serif" textLength="194.5" lengthAdjust="spacingAndGlyphs" >PC:07:47:05</text>
<rect x="1824" y="111.5" width="17.5" height="3.3" fill="#FF0000"/><rect x="1844.5" y="111.5" width="17.5" height="3.3" fill="#FF0000"/>
</svg>

<div class="panel">
 <div class="blk mid"></div><div class="blk under"></div>
 <div class="blk sellb"></div><div class="blk buyb"></div>
 <div class="blk sellp"></div><div class="blk buyp"></div>
 <div class="edge" style="left:44px;width:49px"></div><div class="edge" style="left:95.2px;width:48px"></div>
 <div class="uld" style="left:4px"></div><div class="uld" style="left:147px"></div>
 <div class="ul" style="left:4px"></div><div class="ul" style="left:147px"></div>
 <div class="lbl" style="left:3.4px;width:36px"><span style="display:inline-block;transform:scaleX(0.81)">SELL</span></div>
 <div class="lbl" style="left:146px;width:36px"><span style="display:inline-block;transform:scaleX(0.84)">BUY</span></div>
 <div class="spin">
   <div class="sb" style="left:0.5px;width:18.4px"><i class="dn"></i></div>
   <div class="inp">0.30</div>
   <div class="sb" style="left:75.4px;width:18.5px"><i class="upa"></i></div>
 </div>
 <div class="sm" style="left:18.8px">107</div><div class="big" style="left:40px">03</div><div class="sup" style="left:77px">2</div>
 <div class="sm" style="left:112.8px">107</div><div class="big" style="left:134.6px">03</div><div class="sup" style="left:172px">6</div>
</div>

</body></html>
